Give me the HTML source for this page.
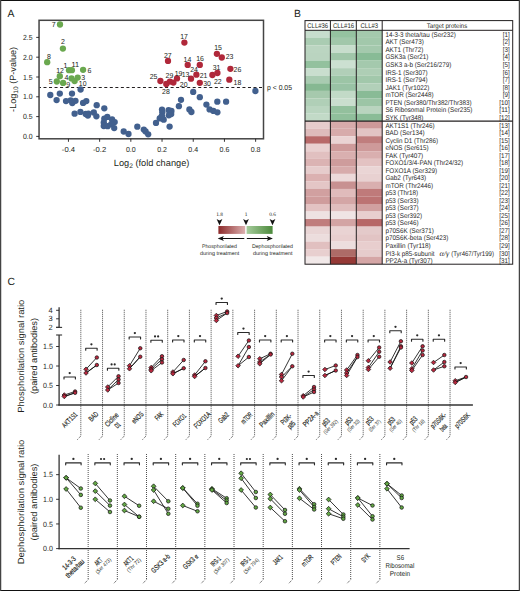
<!DOCTYPE html>
<html><head><meta charset="utf-8"><style>
html,body{margin:0;padding:0;background:#fff;}
svg{display:block;font-family:"Liberation Sans", sans-serif;text-rendering:geometricPrecision;}

</style></head><body>
<svg width="520" height="591" viewBox="0 0 520 591">
<rect x="0" y="0" width="520" height="591" fill="#ffffff"/>
<text x="7.60" y="17.10" font-size="10.4" text-anchor="start" fill="#231f20" >A</text>
<rect x="39.05" y="20.3" width="224.45" height="118.50" fill="none" stroke="#444" stroke-width="1.5"/>
<line x1="36.20" y1="136.40" x2="39.05" y2="136.40" stroke="#231f20" stroke-width="0.9" />
<text x="32.50" y="139.00" font-size="7.4" text-anchor="end" fill="#231f20" textLength="9.6" lengthAdjust="spacingAndGlyphs">0.0</text>
<line x1="36.20" y1="116.60" x2="39.05" y2="116.60" stroke="#231f20" stroke-width="0.9" />
<text x="32.50" y="119.20" font-size="7.4" text-anchor="end" fill="#231f20" textLength="9.6" lengthAdjust="spacingAndGlyphs">0.5</text>
<line x1="36.20" y1="96.80" x2="39.05" y2="96.80" stroke="#231f20" stroke-width="0.9" />
<text x="32.50" y="99.40" font-size="7.4" text-anchor="end" fill="#231f20" textLength="9.6" lengthAdjust="spacingAndGlyphs">1.0</text>
<line x1="36.20" y1="77.00" x2="39.05" y2="77.00" stroke="#231f20" stroke-width="0.9" />
<text x="32.50" y="79.60" font-size="7.4" text-anchor="end" fill="#231f20" textLength="9.6" lengthAdjust="spacingAndGlyphs">1.5</text>
<line x1="36.20" y1="57.20" x2="39.05" y2="57.20" stroke="#231f20" stroke-width="0.9" />
<text x="32.50" y="59.80" font-size="7.4" text-anchor="end" fill="#231f20" textLength="9.6" lengthAdjust="spacingAndGlyphs">2.0</text>
<line x1="36.20" y1="37.40" x2="39.05" y2="37.40" stroke="#231f20" stroke-width="0.9" />
<text x="32.50" y="40.00" font-size="7.4" text-anchor="end" fill="#231f20" textLength="9.6" lengthAdjust="spacingAndGlyphs">2.5</text>
<line x1="68.44" y1="138.80" x2="68.44" y2="141.80" stroke="#231f20" stroke-width="0.9" />
<text x="68.44" y="152.10" font-size="7.3" text-anchor="middle" fill="#231f20" textLength="13.2" lengthAdjust="spacingAndGlyphs">-0.4</text>
<line x1="99.64" y1="138.80" x2="99.64" y2="141.80" stroke="#231f20" stroke-width="0.9" />
<text x="99.64" y="152.10" font-size="7.3" text-anchor="middle" fill="#231f20" textLength="13.2" lengthAdjust="spacingAndGlyphs">-0.2</text>
<line x1="130.84" y1="138.80" x2="130.84" y2="141.80" stroke="#231f20" stroke-width="0.9" />
<text x="130.84" y="152.10" font-size="7.3" text-anchor="middle" fill="#231f20" textLength="9.8" lengthAdjust="spacingAndGlyphs">0.0</text>
<line x1="162.04" y1="138.80" x2="162.04" y2="141.80" stroke="#231f20" stroke-width="0.9" />
<text x="162.04" y="152.10" font-size="7.3" text-anchor="middle" fill="#231f20" textLength="9.8" lengthAdjust="spacingAndGlyphs">0.2</text>
<line x1="193.24" y1="138.80" x2="193.24" y2="141.80" stroke="#231f20" stroke-width="0.9" />
<text x="193.24" y="152.10" font-size="7.3" text-anchor="middle" fill="#231f20" textLength="9.8" lengthAdjust="spacingAndGlyphs">0.4</text>
<line x1="224.44" y1="138.80" x2="224.44" y2="141.80" stroke="#231f20" stroke-width="0.9" />
<text x="224.44" y="152.10" font-size="7.3" text-anchor="middle" fill="#231f20" textLength="9.8" lengthAdjust="spacingAndGlyphs">0.6</text>
<line x1="255.64" y1="138.80" x2="255.64" y2="141.80" stroke="#231f20" stroke-width="0.9" />
<text x="255.64" y="152.10" font-size="7.3" text-anchor="middle" fill="#231f20" textLength="9.8" lengthAdjust="spacingAndGlyphs">0.8</text>
<text x="113.8" y="165.8" font-size="9.2" fill="#231f20" textLength="75.6" lengthAdjust="spacingAndGlyphs">Log<tspan font-size="6.6" dy="2.0">2</tspan><tspan dy="-2.0"> (fold change)</tspan></text>
<text transform="translate(16.4,79.4) rotate(-90)" x="0" y="0" font-size="9.0" text-anchor="middle" fill="#231f20" textLength="65" lengthAdjust="spacingAndGlyphs">-Log<tspan font-size="6.6" dy="2.0">10</tspan><tspan dy="-2.0"> (P-value)</tspan></text>
<line x1="39.65" y1="87.40" x2="263.00" y2="87.40" stroke="#231f20" stroke-width="1.05" stroke-dasharray="3.0 2.526" stroke-dashoffset="1.676"/>
<text x="267.00" y="89.90" font-size="7.3" text-anchor="start" fill="#231f20" textLength="25.0" lengthAdjust="spacingAndGlyphs">p &lt; 0.05</text>
<circle cx="50.30" cy="95.00" r="3.15" fill="#42608e" stroke="none" stroke-width="0"/>
<circle cx="59.80" cy="93.60" r="3.15" fill="#42608e" stroke="none" stroke-width="0"/>
<circle cx="72.00" cy="93.60" r="3.15" fill="#42608e" stroke="none" stroke-width="0"/>
<circle cx="80.60" cy="89.50" r="3.15" fill="#42608e" stroke="none" stroke-width="0"/>
<circle cx="56.60" cy="100.10" r="3.15" fill="#42608e" stroke="none" stroke-width="0"/>
<circle cx="66.00" cy="101.10" r="3.15" fill="#42608e" stroke="none" stroke-width="0"/>
<circle cx="70.70" cy="100.30" r="3.15" fill="#42608e" stroke="none" stroke-width="0"/>
<circle cx="72.30" cy="103.00" r="3.15" fill="#42608e" stroke="none" stroke-width="0"/>
<circle cx="75.50" cy="100.80" r="3.15" fill="#42608e" stroke="none" stroke-width="0"/>
<circle cx="83.10" cy="102.90" r="3.15" fill="#42608e" stroke="none" stroke-width="0"/>
<circle cx="86.30" cy="101.10" r="3.15" fill="#42608e" stroke="none" stroke-width="0"/>
<circle cx="96.70" cy="105.20" r="3.15" fill="#42608e" stroke="none" stroke-width="0"/>
<circle cx="104.30" cy="108.30" r="3.15" fill="#42608e" stroke="none" stroke-width="0"/>
<circle cx="74.60" cy="113.70" r="3.15" fill="#42608e" stroke="none" stroke-width="0"/>
<circle cx="80.40" cy="111.90" r="3.15" fill="#42608e" stroke="none" stroke-width="0"/>
<circle cx="85.70" cy="114.00" r="3.15" fill="#42608e" stroke="none" stroke-width="0"/>
<circle cx="88.40" cy="113.70" r="3.15" fill="#42608e" stroke="none" stroke-width="0"/>
<circle cx="87.90" cy="115.60" r="3.15" fill="#42608e" stroke="none" stroke-width="0"/>
<circle cx="93.80" cy="112.50" r="3.15" fill="#42608e" stroke="none" stroke-width="0"/>
<circle cx="96.40" cy="116.30" r="3.15" fill="#42608e" stroke="none" stroke-width="0"/>
<circle cx="104.30" cy="118.60" r="3.15" fill="#42608e" stroke="none" stroke-width="0"/>
<circle cx="107.30" cy="116.90" r="3.15" fill="#42608e" stroke="none" stroke-width="0"/>
<circle cx="112.10" cy="119.50" r="3.15" fill="#42608e" stroke="none" stroke-width="0"/>
<circle cx="114.70" cy="122.10" r="3.15" fill="#42608e" stroke="none" stroke-width="0"/>
<circle cx="103.80" cy="122.50" r="3.15" fill="#42608e" stroke="none" stroke-width="0"/>
<circle cx="103.80" cy="126.00" r="3.15" fill="#42608e" stroke="none" stroke-width="0"/>
<circle cx="107.70" cy="126.20" r="3.15" fill="#42608e" stroke="none" stroke-width="0"/>
<circle cx="111.20" cy="124.20" r="3.15" fill="#42608e" stroke="none" stroke-width="0"/>
<circle cx="114.20" cy="128.10" r="3.15" fill="#42608e" stroke="none" stroke-width="0"/>
<circle cx="123.70" cy="131.50" r="3.15" fill="#42608e" stroke="none" stroke-width="0"/>
<circle cx="128.50" cy="134.00" r="3.15" fill="#42608e" stroke="none" stroke-width="0"/>
<circle cx="137.30" cy="126.70" r="3.15" fill="#42608e" stroke="none" stroke-width="0"/>
<circle cx="143.80" cy="129.60" r="3.15" fill="#42608e" stroke="none" stroke-width="0"/>
<circle cx="145.60" cy="131.40" r="3.15" fill="#42608e" stroke="none" stroke-width="0"/>
<circle cx="148.20" cy="134.30" r="3.15" fill="#42608e" stroke="none" stroke-width="0"/>
<circle cx="156.00" cy="122.90" r="3.15" fill="#42608e" stroke="none" stroke-width="0"/>
<circle cx="159.70" cy="118.40" r="3.15" fill="#42608e" stroke="none" stroke-width="0"/>
<circle cx="163.70" cy="119.70" r="3.15" fill="#42608e" stroke="none" stroke-width="0"/>
<circle cx="162.00" cy="116.20" r="3.15" fill="#42608e" stroke="none" stroke-width="0"/>
<circle cx="162.00" cy="109.60" r="3.15" fill="#42608e" stroke="none" stroke-width="0"/>
<circle cx="162.30" cy="112.30" r="3.15" fill="#42608e" stroke="none" stroke-width="0"/>
<circle cx="168.60" cy="110.20" r="3.15" fill="#42608e" stroke="none" stroke-width="0"/>
<circle cx="171.40" cy="110.90" r="3.15" fill="#42608e" stroke="none" stroke-width="0"/>
<circle cx="171.20" cy="114.00" r="3.15" fill="#42608e" stroke="none" stroke-width="0"/>
<circle cx="168.80" cy="115.30" r="3.15" fill="#42608e" stroke="none" stroke-width="0"/>
<circle cx="161.50" cy="116.60" r="3.15" fill="#42608e" stroke="none" stroke-width="0"/>
<circle cx="169.60" cy="126.60" r="3.15" fill="#42608e" stroke="none" stroke-width="0"/>
<circle cx="178.90" cy="106.20" r="3.15" fill="#42608e" stroke="none" stroke-width="0"/>
<circle cx="181.00" cy="99.80" r="3.15" fill="#42608e" stroke="none" stroke-width="0"/>
<circle cx="189.40" cy="109.40" r="3.15" fill="#42608e" stroke="none" stroke-width="0"/>
<circle cx="191.40" cy="112.00" r="3.15" fill="#42608e" stroke="none" stroke-width="0"/>
<circle cx="193.20" cy="91.90" r="3.15" fill="#42608e" stroke="none" stroke-width="0"/>
<circle cx="199.80" cy="97.20" r="3.15" fill="#42608e" stroke="none" stroke-width="0"/>
<circle cx="206.40" cy="104.60" r="3.15" fill="#42608e" stroke="none" stroke-width="0"/>
<circle cx="209.60" cy="109.40" r="3.15" fill="#42608e" stroke="none" stroke-width="0"/>
<circle cx="213.40" cy="110.90" r="3.15" fill="#42608e" stroke="none" stroke-width="0"/>
<circle cx="217.40" cy="112.30" r="3.15" fill="#42608e" stroke="none" stroke-width="0"/>
<circle cx="217.30" cy="101.70" r="3.15" fill="#42608e" stroke="none" stroke-width="0"/>
<circle cx="226.10" cy="101.70" r="3.15" fill="#42608e" stroke="none" stroke-width="0"/>
<circle cx="255.40" cy="91.00" r="3.15" fill="#42608e" stroke="none" stroke-width="0"/>
<circle cx="60.00" cy="24.50" r="3.15" fill="#6aa84f" stroke="none" stroke-width="0"/>
<circle cx="62.90" cy="48.60" r="3.15" fill="#6aa84f" stroke="none" stroke-width="0"/>
<circle cx="47.20" cy="62.20" r="3.15" fill="#6aa84f" stroke="none" stroke-width="0"/>
<circle cx="69.00" cy="70.20" r="3.15" fill="#6aa84f" stroke="none" stroke-width="0"/>
<circle cx="71.90" cy="70.20" r="3.15" fill="#6aa84f" stroke="none" stroke-width="0"/>
<circle cx="83.10" cy="69.80" r="3.15" fill="#6aa84f" stroke="none" stroke-width="0"/>
<circle cx="59.80" cy="76.20" r="3.15" fill="#6aa84f" stroke="none" stroke-width="0"/>
<circle cx="56.80" cy="81.50" r="3.15" fill="#6aa84f" stroke="none" stroke-width="0"/>
<circle cx="63.10" cy="82.90" r="3.15" fill="#6aa84f" stroke="none" stroke-width="0"/>
<circle cx="71.50" cy="78.40" r="3.15" fill="#6aa84f" stroke="none" stroke-width="0"/>
<circle cx="74.60" cy="81.10" r="3.15" fill="#6aa84f" stroke="none" stroke-width="0"/>
<circle cx="77.70" cy="77.60" r="3.15" fill="#6aa84f" stroke="none" stroke-width="0"/>
<circle cx="184.40" cy="42.60" r="3.15" fill="#b0283a" stroke="none" stroke-width="0"/>
<circle cx="216.90" cy="53.80" r="3.15" fill="#b0283a" stroke="none" stroke-width="0"/>
<circle cx="221.80" cy="57.50" r="3.15" fill="#b0283a" stroke="none" stroke-width="0"/>
<circle cx="168.00" cy="60.90" r="3.15" fill="#b0283a" stroke="none" stroke-width="0"/>
<circle cx="187.70" cy="64.90" r="3.15" fill="#b0283a" stroke="none" stroke-width="0"/>
<circle cx="199.80" cy="64.90" r="3.15" fill="#b0283a" stroke="none" stroke-width="0"/>
<circle cx="230.40" cy="68.80" r="3.15" fill="#b0283a" stroke="none" stroke-width="0"/>
<circle cx="217.40" cy="73.00" r="3.15" fill="#b0283a" stroke="none" stroke-width="0"/>
<circle cx="212.40" cy="75.00" r="3.15" fill="#b0283a" stroke="none" stroke-width="0"/>
<circle cx="196.40" cy="74.70" r="3.15" fill="#b0283a" stroke="none" stroke-width="0"/>
<circle cx="191.00" cy="78.70" r="3.15" fill="#b0283a" stroke="none" stroke-width="0"/>
<circle cx="177.00" cy="78.40" r="3.15" fill="#b0283a" stroke="none" stroke-width="0"/>
<circle cx="229.30" cy="79.70" r="3.15" fill="#b0283a" stroke="none" stroke-width="0"/>
<circle cx="160.40" cy="81.00" r="3.15" fill="#b0283a" stroke="none" stroke-width="0"/>
<circle cx="169.90" cy="81.60" r="3.15" fill="#b0283a" stroke="none" stroke-width="0"/>
<circle cx="173.40" cy="82.60" r="3.15" fill="#b0283a" stroke="none" stroke-width="0"/>
<circle cx="166.30" cy="84.00" r="3.15" fill="#b0283a" stroke="none" stroke-width="0"/>
<circle cx="199.80" cy="82.80" r="3.15" fill="#b0283a" stroke="none" stroke-width="0"/>
<text x="53.80" y="27.30" font-size="7.2" text-anchor="middle" fill="#231f20" textLength="3.9" lengthAdjust="spacingAndGlyphs">7</text>
<text x="62.90" y="44.40" font-size="7.2" text-anchor="middle" fill="#231f20" textLength="3.9" lengthAdjust="spacingAndGlyphs">2</text>
<text x="49.00" y="59.00" font-size="7.2" text-anchor="middle" fill="#231f20" textLength="3.9" lengthAdjust="spacingAndGlyphs">8</text>
<text x="60.00" y="73.00" font-size="7.2" text-anchor="middle" fill="#231f20" textLength="7.7" lengthAdjust="spacingAndGlyphs">12</text>
<text x="65.40" y="68.00" font-size="7.2" text-anchor="middle" fill="#231f20" textLength="3.9" lengthAdjust="spacingAndGlyphs">1</text>
<text x="75.40" y="66.90" font-size="7.2" text-anchor="middle" fill="#231f20" textLength="7.7" lengthAdjust="spacingAndGlyphs">11</text>
<text x="89.50" y="72.50" font-size="7.2" text-anchor="middle" fill="#231f20" textLength="3.9" lengthAdjust="spacingAndGlyphs">6</text>
<text x="66.50" y="79.90" font-size="7.2" text-anchor="middle" fill="#231f20" textLength="3.9" lengthAdjust="spacingAndGlyphs">4</text>
<text x="83.10" y="79.50" font-size="7.2" text-anchor="middle" fill="#231f20" textLength="3.9" lengthAdjust="spacingAndGlyphs">3</text>
<text x="50.60" y="84.20" font-size="7.2" text-anchor="middle" fill="#231f20" textLength="3.9" lengthAdjust="spacingAndGlyphs">5</text>
<text x="68.10" y="86.90" font-size="7.2" text-anchor="middle" fill="#231f20" textLength="3.9" lengthAdjust="spacingAndGlyphs">9</text>
<text x="82.70" y="86.10" font-size="7.2" text-anchor="middle" fill="#231f20" textLength="7.7" lengthAdjust="spacingAndGlyphs">10</text>
<text x="184.00" y="38.90" font-size="7.2" text-anchor="middle" fill="#231f20" textLength="7.7" lengthAdjust="spacingAndGlyphs">17</text>
<text x="167.80" y="57.80" font-size="7.2" text-anchor="middle" fill="#231f20" textLength="7.7" lengthAdjust="spacingAndGlyphs">27</text>
<text x="187.40" y="61.50" font-size="7.2" text-anchor="middle" fill="#231f20" textLength="7.7" lengthAdjust="spacingAndGlyphs">14</text>
<text x="200.00" y="61.20" font-size="7.2" text-anchor="middle" fill="#231f20" textLength="7.7" lengthAdjust="spacingAndGlyphs">16</text>
<text x="218.10" y="50.40" font-size="7.2" text-anchor="middle" fill="#231f20" textLength="7.7" lengthAdjust="spacingAndGlyphs">15</text>
<text x="229.50" y="59.00" font-size="7.2" text-anchor="middle" fill="#231f20" textLength="7.7" lengthAdjust="spacingAndGlyphs">23</text>
<text x="153.50" y="79.10" font-size="7.2" text-anchor="middle" fill="#231f20" textLength="7.7" lengthAdjust="spacingAndGlyphs">25</text>
<text x="169.40" y="78.30" font-size="7.2" text-anchor="middle" fill="#231f20" textLength="7.7" lengthAdjust="spacingAndGlyphs">29</text>
<text x="178.50" y="75.70" font-size="7.2" text-anchor="middle" fill="#231f20" textLength="7.7" lengthAdjust="spacingAndGlyphs">19</text>
<text x="185.50" y="76.50" font-size="7.2" text-anchor="middle" fill="#231f20" textLength="7.7" lengthAdjust="spacingAndGlyphs">13</text>
<text x="194.10" y="71.90" font-size="7.2" text-anchor="middle" fill="#231f20" textLength="7.7" lengthAdjust="spacingAndGlyphs">24</text>
<text x="203.60" y="77.90" font-size="7.2" text-anchor="middle" fill="#231f20" textLength="7.7" lengthAdjust="spacingAndGlyphs">21</text>
<text x="183.70" y="86.90" font-size="7.2" text-anchor="middle" fill="#231f20" textLength="7.7" lengthAdjust="spacingAndGlyphs">20</text>
<text x="207.10" y="86.10" font-size="7.2" text-anchor="middle" fill="#231f20" textLength="7.7" lengthAdjust="spacingAndGlyphs">30</text>
<text x="216.60" y="69.60" font-size="7.2" text-anchor="middle" fill="#231f20" textLength="7.7" lengthAdjust="spacingAndGlyphs">31</text>
<text x="217.80" y="83.50" font-size="7.2" text-anchor="middle" fill="#231f20" textLength="7.7" lengthAdjust="spacingAndGlyphs">22</text>
<text x="237.40" y="72.20" font-size="7.2" text-anchor="middle" fill="#231f20" textLength="7.7" lengthAdjust="spacingAndGlyphs">26</text>
<text x="237.40" y="85.20" font-size="7.2" text-anchor="middle" fill="#231f20" textLength="7.7" lengthAdjust="spacingAndGlyphs">18</text>
<text x="165.90" y="93.80" font-size="7.2" text-anchor="middle" fill="#231f20" textLength="7.7" lengthAdjust="spacingAndGlyphs">28</text>
<text x="294.00" y="17.10" font-size="10.4" text-anchor="start" fill="#231f20" >B</text>
<rect x="305.00" y="30.30" width="25.40" height="7.62" fill="#c7ddcd"/>
<rect x="305.00" y="37.87" width="25.40" height="7.62" fill="#aaccb2"/>
<rect x="305.00" y="45.44" width="25.40" height="7.62" fill="#bbd5c1"/>
<rect x="305.00" y="53.01" width="25.40" height="7.62" fill="#bad4c0"/>
<rect x="305.00" y="60.58" width="25.40" height="7.62" fill="#93c19e"/>
<rect x="305.00" y="68.15" width="25.40" height="7.62" fill="#c9dece"/>
<rect x="305.00" y="75.73" width="25.40" height="7.62" fill="#a9cbb1"/>
<rect x="305.00" y="83.30" width="25.40" height="7.62" fill="#86b892"/>
<rect x="305.00" y="90.87" width="25.40" height="7.62" fill="#a6c9ad"/>
<rect x="305.00" y="98.44" width="25.40" height="7.62" fill="#b0cfb7"/>
<rect x="305.00" y="106.01" width="25.40" height="7.62" fill="#bad5c0"/>
<rect x="305.00" y="113.58" width="25.40" height="7.62" fill="#c2dac7"/>
<rect x="305.00" y="121.15" width="25.40" height="7.58" fill="#e6cccc"/>
<rect x="305.00" y="128.68" width="25.40" height="7.58" fill="#debbbb"/>
<rect x="305.00" y="136.21" width="25.40" height="7.58" fill="#b86969"/>
<rect x="305.00" y="143.74" width="25.40" height="7.58" fill="#e9d0d0"/>
<rect x="305.00" y="151.27" width="25.40" height="7.58" fill="#e1c0c0"/>
<rect x="305.00" y="158.79" width="25.40" height="7.58" fill="#dbb3b3"/>
<rect x="305.00" y="166.32" width="25.40" height="7.58" fill="#e6cccc"/>
<rect x="305.00" y="173.85" width="25.40" height="7.58" fill="#dbb1b1"/>
<rect x="305.00" y="181.38" width="25.40" height="7.58" fill="#e4c6c6"/>
<rect x="305.00" y="188.91" width="25.40" height="7.58" fill="#d1a0a0"/>
<rect x="305.00" y="196.44" width="25.40" height="7.58" fill="#cf9c9c"/>
<rect x="305.00" y="203.97" width="25.40" height="7.58" fill="#e3c2c2"/>
<rect x="305.00" y="211.50" width="25.40" height="7.58" fill="#eee2e2"/>
<rect x="305.00" y="219.03" width="25.40" height="7.58" fill="#c07d7d"/>
<rect x="305.00" y="226.56" width="25.40" height="7.58" fill="#e9d5d5"/>
<rect x="305.00" y="234.08" width="25.40" height="7.58" fill="#ecdddd"/>
<rect x="305.00" y="241.61" width="25.40" height="7.58" fill="#e1c0c0"/>
<rect x="305.00" y="249.14" width="25.40" height="7.58" fill="#e8cfcf"/>
<rect x="305.00" y="256.67" width="25.40" height="7.58" fill="#f1e8e8"/>
<rect x="330.40" y="30.30" width="25.90" height="7.62" fill="#95c2a0"/>
<rect x="330.40" y="37.87" width="25.90" height="7.62" fill="#a1c7aa"/>
<rect x="330.40" y="45.44" width="25.90" height="7.62" fill="#c7ddcc"/>
<rect x="330.40" y="53.01" width="25.90" height="7.62" fill="#a0c6a9"/>
<rect x="330.40" y="60.58" width="25.90" height="7.62" fill="#cce0d1"/>
<rect x="330.40" y="68.15" width="25.90" height="7.62" fill="#b1cfb8"/>
<rect x="330.40" y="75.73" width="25.90" height="7.62" fill="#9cc5a6"/>
<rect x="330.40" y="83.30" width="25.90" height="7.62" fill="#99c3a5"/>
<rect x="330.40" y="90.87" width="25.90" height="7.62" fill="#c2dac7"/>
<rect x="330.40" y="98.44" width="25.90" height="7.62" fill="#cadece"/>
<rect x="330.40" y="106.01" width="25.90" height="7.62" fill="#93c09d"/>
<rect x="330.40" y="113.58" width="25.90" height="7.62" fill="#90bf9b"/>
<rect x="330.40" y="121.15" width="25.90" height="7.58" fill="#d7abab"/>
<rect x="330.40" y="128.68" width="25.90" height="7.58" fill="#d7abab"/>
<rect x="330.40" y="136.21" width="25.90" height="7.58" fill="#ead3d3"/>
<rect x="330.40" y="143.74" width="25.90" height="7.58" fill="#ce9a9a"/>
<rect x="330.40" y="151.27" width="25.90" height="7.58" fill="#d9afaf"/>
<rect x="330.40" y="158.79" width="25.90" height="7.58" fill="#ce9c9c"/>
<rect x="330.40" y="166.32" width="25.90" height="7.58" fill="#d7abab"/>
<rect x="330.40" y="173.85" width="25.90" height="7.58" fill="#ecd9d9"/>
<rect x="330.40" y="181.38" width="25.90" height="7.58" fill="#c89191"/>
<rect x="330.40" y="188.91" width="25.90" height="7.58" fill="#e0bbbb"/>
<rect x="330.40" y="196.44" width="25.90" height="7.58" fill="#d4a6a6"/>
<rect x="330.40" y="203.97" width="25.90" height="7.58" fill="#e0bebe"/>
<rect x="330.40" y="211.50" width="25.90" height="7.58" fill="#efe4e4"/>
<rect x="330.40" y="219.03" width="25.90" height="7.58" fill="#d3a4a4"/>
<rect x="330.40" y="226.56" width="25.90" height="7.58" fill="#e9d3d3"/>
<rect x="330.40" y="234.08" width="25.90" height="7.58" fill="#e8cfcf"/>
<rect x="330.40" y="241.61" width="25.90" height="7.58" fill="#ecdede"/>
<rect x="330.40" y="249.14" width="25.90" height="7.58" fill="#ad6b67"/>
<rect x="330.40" y="256.67" width="25.90" height="7.58" fill="#953936"/>
<rect x="356.30" y="30.30" width="25.90" height="7.62" fill="#a4c9ad"/>
<rect x="356.30" y="37.87" width="25.90" height="7.62" fill="#a2c8ab"/>
<rect x="356.30" y="45.44" width="25.90" height="7.62" fill="#a4c9ad"/>
<rect x="356.30" y="53.01" width="25.90" height="7.62" fill="#88bb96"/>
<rect x="356.30" y="60.58" width="25.90" height="7.62" fill="#a4c9ad"/>
<rect x="356.30" y="68.15" width="25.90" height="7.62" fill="#aeceb5"/>
<rect x="356.30" y="75.73" width="25.90" height="7.62" fill="#a2c8ab"/>
<rect x="356.30" y="83.30" width="25.90" height="7.62" fill="#b2d0b9"/>
<rect x="356.30" y="90.87" width="25.90" height="7.62" fill="#89bb96"/>
<rect x="356.30" y="98.44" width="25.90" height="7.62" fill="#9cc5a6"/>
<rect x="356.30" y="106.01" width="25.90" height="7.62" fill="#b9d4bf"/>
<rect x="356.30" y="113.58" width="25.90" height="7.62" fill="#8abc97"/>
<rect x="356.30" y="121.15" width="25.90" height="7.58" fill="#cd9999"/>
<rect x="356.30" y="128.68" width="25.90" height="7.58" fill="#e2c4c4"/>
<rect x="356.30" y="136.21" width="25.90" height="7.58" fill="#c07e7e"/>
<rect x="356.30" y="143.74" width="25.90" height="7.58" fill="#ce9a9a"/>
<rect x="356.30" y="151.27" width="25.90" height="7.58" fill="#d9afaf"/>
<rect x="356.30" y="158.79" width="25.90" height="7.58" fill="#e3c2c2"/>
<rect x="356.30" y="166.32" width="25.90" height="7.58" fill="#ead5d5"/>
<rect x="356.30" y="173.85" width="25.90" height="7.58" fill="#e8d1d1"/>
<rect x="356.30" y="181.38" width="25.90" height="7.58" fill="#d9afaf"/>
<rect x="356.30" y="188.91" width="25.90" height="7.58" fill="#bf7a7a"/>
<rect x="356.30" y="196.44" width="25.90" height="7.58" fill="#bc7373"/>
<rect x="356.30" y="203.97" width="25.90" height="7.58" fill="#d1a0a0"/>
<rect x="356.30" y="211.50" width="25.90" height="7.58" fill="#e8cece"/>
<rect x="356.30" y="219.03" width="25.90" height="7.58" fill="#b76767"/>
<rect x="356.30" y="226.56" width="25.90" height="7.58" fill="#e4caca"/>
<rect x="356.30" y="234.08" width="25.90" height="7.58" fill="#e2c4c4"/>
<rect x="356.30" y="241.61" width="25.90" height="7.58" fill="#e8cece"/>
<rect x="356.30" y="249.14" width="25.90" height="7.58" fill="#e6cccc"/>
<rect x="356.30" y="256.67" width="25.90" height="7.58" fill="#d5a6a6"/>
<rect x="305.0" y="20.6" width="207.70" height="243.60" fill="none" stroke="#231f20" stroke-width="1"/>
<line x1="305.00" y1="30.30" x2="512.70" y2="30.30" stroke="#231f20" stroke-width="1" />
<line x1="330.40" y1="20.60" x2="330.40" y2="264.20" stroke="#231f20" stroke-width="1" />
<line x1="356.30" y1="20.60" x2="356.30" y2="264.20" stroke="#231f20" stroke-width="1" />
<line x1="382.20" y1="20.60" x2="382.20" y2="264.20" stroke="#231f20" stroke-width="1" />
<line x1="305.00" y1="121.15" x2="512.70" y2="121.15" stroke="#231f20" stroke-width="1.1" />
<text x="317.70" y="27.70" font-size="6.8" text-anchor="middle" fill="#231f20" textLength="20.8" lengthAdjust="spacingAndGlyphs">CLL#36</text>
<text x="343.60" y="27.70" font-size="6.8" text-anchor="middle" fill="#231f20" textLength="21.2" lengthAdjust="spacingAndGlyphs">CLL#16</text>
<text x="369.30" y="27.70" font-size="6.8" text-anchor="middle" fill="#231f20" textLength="17.6" lengthAdjust="spacingAndGlyphs">CLL#3</text>
<text x="447.00" y="27.50" font-size="6.7" text-anchor="middle" fill="#231f20" textLength="40.4" lengthAdjust="spacingAndGlyphs">Target proteins</text>
<text x="385.40" y="36.69" font-size="6.8" text-anchor="start" fill="#2a2a2a" textLength="70.52" lengthAdjust="spacingAndGlyphs">14-3-3 theta/tau (Ser232)</text>
<text x="509.80" y="36.69" font-size="6.8" text-anchor="end" fill="#2a2a2a" textLength="6.98" lengthAdjust="spacingAndGlyphs">[1]</text>
<text x="385.40" y="44.26" font-size="6.8" text-anchor="start" fill="#2a2a2a" textLength="38.39" lengthAdjust="spacingAndGlyphs">AKT (Ser473)</text>
<text x="509.80" y="44.26" font-size="6.8" text-anchor="end" fill="#2a2a2a" textLength="6.98" lengthAdjust="spacingAndGlyphs">[2]</text>
<text x="385.40" y="51.83" font-size="6.8" text-anchor="start" fill="#2a2a2a" textLength="38.04" lengthAdjust="spacingAndGlyphs">AKT1 (Thr72)</text>
<text x="509.80" y="51.83" font-size="6.8" text-anchor="end" fill="#2a2a2a" textLength="6.98" lengthAdjust="spacingAndGlyphs">[3]</text>
<text x="385.40" y="59.40" font-size="6.8" text-anchor="start" fill="#2a2a2a" textLength="42.93" lengthAdjust="spacingAndGlyphs">GSK3a (Ser21)</text>
<text x="509.80" y="59.40" font-size="6.8" text-anchor="end" fill="#2a2a2a" textLength="6.98" lengthAdjust="spacingAndGlyphs">[4]</text>
<text x="385.40" y="66.97" font-size="6.8" text-anchor="start" fill="#2a2a2a" textLength="65.98" lengthAdjust="spacingAndGlyphs">GSK3 a-b (Ser216/279)</text>
<text x="509.80" y="66.97" font-size="6.8" text-anchor="end" fill="#2a2a2a" textLength="6.98" lengthAdjust="spacingAndGlyphs">[5]</text>
<text x="385.40" y="74.54" font-size="6.8" text-anchor="start" fill="#2a2a2a" textLength="42.23" lengthAdjust="spacingAndGlyphs">IRS-1 (Ser307)</text>
<text x="509.80" y="74.54" font-size="6.8" text-anchor="end" fill="#2a2a2a" textLength="6.98" lengthAdjust="spacingAndGlyphs">[6]</text>
<text x="385.40" y="82.11" font-size="6.8" text-anchor="start" fill="#2a2a2a" textLength="42.23" lengthAdjust="spacingAndGlyphs">IRS-1 (Ser794)</text>
<text x="509.80" y="82.11" font-size="6.8" text-anchor="end" fill="#2a2a2a" textLength="6.98" lengthAdjust="spacingAndGlyphs">[7]</text>
<text x="385.40" y="89.68" font-size="6.8" text-anchor="start" fill="#2a2a2a" textLength="43.98" lengthAdjust="spacingAndGlyphs">JAK1 (Tyr1022)</text>
<text x="509.80" y="89.68" font-size="6.8" text-anchor="end" fill="#2a2a2a" textLength="6.98" lengthAdjust="spacingAndGlyphs">[8]</text>
<text x="385.40" y="97.25" font-size="6.8" text-anchor="start" fill="#2a2a2a" textLength="48.16" lengthAdjust="spacingAndGlyphs">mTOR (Ser2448)</text>
<text x="509.80" y="97.25" font-size="6.8" text-anchor="end" fill="#2a2a2a" textLength="6.98" lengthAdjust="spacingAndGlyphs">[9]</text>
<text x="385.40" y="104.82" font-size="6.8" text-anchor="start" fill="#2a2a2a" textLength="86.21" lengthAdjust="spacingAndGlyphs">PTEN (Ser380/Thr382/Thr383)</text>
<text x="509.80" y="104.82" font-size="6.8" text-anchor="end" fill="#2a2a2a" textLength="10.47" lengthAdjust="spacingAndGlyphs">[10]</text>
<text x="385.40" y="112.39" font-size="6.8" text-anchor="start" fill="#2a2a2a" textLength="86.91" lengthAdjust="spacingAndGlyphs">S6 Ribosomal Protein (Ser235)</text>
<text x="509.80" y="112.39" font-size="6.8" text-anchor="end" fill="#2a2a2a" textLength="10.47" lengthAdjust="spacingAndGlyphs">[11]</text>
<text x="385.40" y="119.96" font-size="6.8" text-anchor="start" fill="#2a2a2a" textLength="38.04" lengthAdjust="spacingAndGlyphs">SYK (Tyr348)</text>
<text x="509.80" y="119.96" font-size="6.8" text-anchor="end" fill="#2a2a2a" textLength="10.47" lengthAdjust="spacingAndGlyphs">[12]</text>
<text x="385.40" y="127.51" font-size="6.8" text-anchor="start" fill="#2a2a2a" textLength="49.21" lengthAdjust="spacingAndGlyphs">AKT1S1 (Thr246)</text>
<text x="509.80" y="127.51" font-size="6.8" text-anchor="end" fill="#2a2a2a" textLength="10.47" lengthAdjust="spacingAndGlyphs">[13]</text>
<text x="385.40" y="135.04" font-size="6.8" text-anchor="start" fill="#2a2a2a" textLength="39.09" lengthAdjust="spacingAndGlyphs">BAD (Ser134)</text>
<text x="509.80" y="135.04" font-size="6.8" text-anchor="end" fill="#2a2a2a" textLength="10.47" lengthAdjust="spacingAndGlyphs">[14]</text>
<text x="385.40" y="142.57" font-size="6.8" text-anchor="start" fill="#2a2a2a" textLength="52.70" lengthAdjust="spacingAndGlyphs">Cyclin D1 (Thr286)</text>
<text x="509.80" y="142.57" font-size="6.8" text-anchor="end" fill="#2a2a2a" textLength="10.47" lengthAdjust="spacingAndGlyphs">[15]</text>
<text x="385.40" y="150.10" font-size="6.8" text-anchor="start" fill="#2a2a2a" textLength="43.28" lengthAdjust="spacingAndGlyphs">eNOS (Ser615)</text>
<text x="509.80" y="150.10" font-size="6.8" text-anchor="end" fill="#2a2a2a" textLength="10.47" lengthAdjust="spacingAndGlyphs">[16]</text>
<text x="385.40" y="157.63" font-size="6.8" text-anchor="start" fill="#2a2a2a" textLength="37.69" lengthAdjust="spacingAndGlyphs">FAK (Tyr407)</text>
<text x="509.80" y="157.63" font-size="6.8" text-anchor="end" fill="#2a2a2a" textLength="10.47" lengthAdjust="spacingAndGlyphs">[17]</text>
<text x="385.40" y="165.16" font-size="6.8" text-anchor="start" fill="#2a2a2a" textLength="77.83" lengthAdjust="spacingAndGlyphs">FOXO1/3/4-PAN (Thr24/32)</text>
<text x="509.80" y="165.16" font-size="6.8" text-anchor="end" fill="#2a2a2a" textLength="10.47" lengthAdjust="spacingAndGlyphs">[18]</text>
<text x="385.40" y="172.69" font-size="6.8" text-anchor="start" fill="#2a2a2a" textLength="51.65" lengthAdjust="spacingAndGlyphs">FOXO1A (Ser329)</text>
<text x="509.80" y="172.69" font-size="6.8" text-anchor="end" fill="#2a2a2a" textLength="10.47" lengthAdjust="spacingAndGlyphs">[19]</text>
<text x="385.40" y="180.22" font-size="6.8" text-anchor="start" fill="#2a2a2a" textLength="40.84" lengthAdjust="spacingAndGlyphs">Gab2 (Tyr643)</text>
<text x="509.80" y="180.22" font-size="6.8" text-anchor="end" fill="#2a2a2a" textLength="10.47" lengthAdjust="spacingAndGlyphs">[20]</text>
<text x="385.40" y="187.75" font-size="6.8" text-anchor="start" fill="#2a2a2a" textLength="47.81" lengthAdjust="spacingAndGlyphs">mTOR (Thr2446)</text>
<text x="509.80" y="187.75" font-size="6.8" text-anchor="end" fill="#2a2a2a" textLength="10.47" lengthAdjust="spacingAndGlyphs">[21]</text>
<text x="385.40" y="195.27" font-size="6.8" text-anchor="start" fill="#2a2a2a" textLength="32.81" lengthAdjust="spacingAndGlyphs">p53 (Thr18)</text>
<text x="509.80" y="195.27" font-size="6.8" text-anchor="end" fill="#2a2a2a" textLength="10.47" lengthAdjust="spacingAndGlyphs">[22]</text>
<text x="385.40" y="202.80" font-size="6.8" text-anchor="start" fill="#2a2a2a" textLength="33.16" lengthAdjust="spacingAndGlyphs">p53 (Ser33)</text>
<text x="509.80" y="202.80" font-size="6.8" text-anchor="end" fill="#2a2a2a" textLength="10.47" lengthAdjust="spacingAndGlyphs">[23]</text>
<text x="385.40" y="210.33" font-size="6.8" text-anchor="start" fill="#2a2a2a" textLength="33.16" lengthAdjust="spacingAndGlyphs">p53 (Ser37)</text>
<text x="509.80" y="210.33" font-size="6.8" text-anchor="end" fill="#2a2a2a" textLength="10.47" lengthAdjust="spacingAndGlyphs">[24]</text>
<text x="385.40" y="217.86" font-size="6.8" text-anchor="start" fill="#2a2a2a" textLength="36.66" lengthAdjust="spacingAndGlyphs">p53 (Ser392)</text>
<text x="509.80" y="217.86" font-size="6.8" text-anchor="end" fill="#2a2a2a" textLength="10.47" lengthAdjust="spacingAndGlyphs">[25]</text>
<text x="385.40" y="225.39" font-size="6.8" text-anchor="start" fill="#2a2a2a" textLength="33.16" lengthAdjust="spacingAndGlyphs">p53 (Ser46)</text>
<text x="509.80" y="225.39" font-size="6.8" text-anchor="end" fill="#2a2a2a" textLength="10.47" lengthAdjust="spacingAndGlyphs">[26]</text>
<text x="385.40" y="232.92" font-size="6.8" text-anchor="start" fill="#2a2a2a" textLength="48.53" lengthAdjust="spacingAndGlyphs">p70S6K (Ser371)</text>
<text x="509.80" y="232.92" font-size="6.8" text-anchor="end" fill="#2a2a2a" textLength="10.47" lengthAdjust="spacingAndGlyphs">[27]</text>
<text x="385.40" y="240.45" font-size="6.8" text-anchor="start" fill="#2a2a2a" textLength="62.84" lengthAdjust="spacingAndGlyphs">p70S6K-beta (Ser423)</text>
<text x="509.80" y="240.45" font-size="6.8" text-anchor="end" fill="#2a2a2a" textLength="10.47" lengthAdjust="spacingAndGlyphs">[28]</text>
<text x="385.40" y="247.98" font-size="6.8" text-anchor="start" fill="#2a2a2a" textLength="45.37" lengthAdjust="spacingAndGlyphs">Paxillin (Tyr118)</text>
<text x="509.80" y="247.98" font-size="6.8" text-anchor="end" fill="#2a2a2a" textLength="10.47" lengthAdjust="spacingAndGlyphs">[29]</text>
<text x="385.40" y="255.51" font-size="6.8" text-anchor="start" fill="#2a2a2a" textLength="49.22" lengthAdjust="spacingAndGlyphs">PI3-k p85-subunit</text>
<text x="439.40" y="255.51" font-size="7.6" text-anchor="start" fill="#2a2a2a" font-family="Liberation Serif" font-style="italic" textLength="9.8" lengthAdjust="spacingAndGlyphs">α/γ</text>
<text x="451.20" y="255.51" font-size="6.8" text-anchor="start" fill="#2a2a2a" textLength="42.8" lengthAdjust="spacingAndGlyphs">(Tyr467/Tyr199)</text>
<text x="509.80" y="255.51" font-size="6.8" text-anchor="end" fill="#2a2a2a" textLength="10.47" lengthAdjust="spacingAndGlyphs">[30]</text>
<text x="385.40" y="263.04" font-size="6.8" text-anchor="start" fill="#2a2a2a" textLength="47.12" lengthAdjust="spacingAndGlyphs">PP2A-a (Tyr307)</text>
<text x="509.80" y="263.04" font-size="6.8" text-anchor="end" fill="#2a2a2a" textLength="10.47" lengthAdjust="spacingAndGlyphs">[31]</text>
<defs><linearGradient id="gr" x1="0" x2="1"><stop offset="0" stop-color="#8c2a2a"/><stop offset="1" stop-color="#dcb0b0"/></linearGradient><linearGradient id="gg" x1="0" x2="1"><stop offset="0" stop-color="#a6cc9c"/><stop offset="1" stop-color="#4c8a3c"/></linearGradient></defs>
<rect x="218.4" y="226.0" width="26.8" height="7.9" fill="url(#gr)"/>
<rect x="246.6" y="226.0" width="26.0" height="7.9" fill="url(#gg)"/>
<text x="219.50" y="215.80" font-size="5.4" text-anchor="middle" fill="#231f20" font-family="Liberation Serif">1.8</text>
<path d="M216.60,218.9 L219.50,220.5 L222.40,218.9 L219.50,225.3 Z" fill="#111"/>
<text x="246.00" y="215.80" font-size="5.4" text-anchor="middle" fill="#231f20" font-family="Liberation Serif">1</text>
<path d="M243.10,218.9 L246.00,220.5 L248.90,218.9 L246.00,225.3 Z" fill="#111"/>
<text x="272.50" y="215.80" font-size="5.4" text-anchor="middle" fill="#231f20" font-family="Liberation Serif">0.6</text>
<path d="M269.60,218.9 L272.50,220.5 L275.40,218.9 L272.50,225.3 Z" fill="#111"/>
<line x1="222.00" y1="238.50" x2="244.30" y2="238.50" stroke="#111" stroke-width="1.0" />
<path d="M217.7,238.5 L223.9,236.1 L222.4,238.5 L223.9,240.9 Z" fill="#111"/>
<line x1="246.80" y1="238.50" x2="268.60" y2="238.50" stroke="#111" stroke-width="1.0" />
<path d="M272.9,238.5 L266.7,236.1 L268.2,238.5 L266.7,240.9 Z" fill="#111"/>
<text x="219.40" y="248.30" font-size="5.3" text-anchor="middle" fill="#231f20" textLength="35.0" lengthAdjust="spacingAndGlyphs">Phosphorilated</text>
<text x="219.60" y="254.60" font-size="5.3" text-anchor="middle" fill="#231f20" textLength="39.2" lengthAdjust="spacingAndGlyphs">during treatment</text>
<text x="272.40" y="248.30" font-size="5.3" text-anchor="middle" fill="#231f20" textLength="41.0" lengthAdjust="spacingAndGlyphs">Dephosphorilated</text>
<text x="272.70" y="254.60" font-size="5.3" text-anchor="middle" fill="#231f20" textLength="39.6" lengthAdjust="spacingAndGlyphs">during treatment</text>
<text x="7.60" y="284.70" font-size="10.4" text-anchor="start" fill="#231f20" >C</text>
<line x1="59.10" y1="335.00" x2="59.10" y2="405.60" stroke="#333" stroke-width="1.3" />
<line x1="59.10" y1="307.20" x2="59.10" y2="327.40" stroke="#333" stroke-width="1.3" />
<line x1="58.50" y1="405.00" x2="472.90" y2="405.00" stroke="#333" stroke-width="1.3" />
<line x1="56.10" y1="405.00" x2="59.10" y2="405.00" stroke="#231f20" stroke-width="0.9" />
<text x="52.90" y="407.60" font-size="7.5" text-anchor="end" fill="#231f20" textLength="9.8" lengthAdjust="spacingAndGlyphs">0.0</text>
<line x1="56.10" y1="385.50" x2="59.10" y2="385.50" stroke="#231f20" stroke-width="0.9" />
<text x="52.90" y="388.10" font-size="7.5" text-anchor="end" fill="#231f20" textLength="9.8" lengthAdjust="spacingAndGlyphs">0.5</text>
<line x1="56.10" y1="366.00" x2="59.10" y2="366.00" stroke="#231f20" stroke-width="0.9" />
<text x="52.90" y="368.60" font-size="7.5" text-anchor="end" fill="#231f20" textLength="9.8" lengthAdjust="spacingAndGlyphs">1.0</text>
<line x1="56.10" y1="346.50" x2="59.10" y2="346.50" stroke="#231f20" stroke-width="0.9" />
<text x="52.90" y="349.10" font-size="7.5" text-anchor="end" fill="#231f20" textLength="9.8" lengthAdjust="spacingAndGlyphs">1.5</text>
<line x1="56.10" y1="310.30" x2="59.10" y2="310.30" stroke="#231f20" stroke-width="0.9" />
<text x="52.70" y="312.90" font-size="7.5" text-anchor="end" fill="#231f20" >4</text>
<line x1="56.10" y1="318.80" x2="59.10" y2="318.80" stroke="#231f20" stroke-width="0.9" />
<text x="52.70" y="321.40" font-size="7.5" text-anchor="end" fill="#231f20" >3</text>
<line x1="56.10" y1="327.30" x2="59.10" y2="327.30" stroke="#231f20" stroke-width="0.9" />
<text x="52.70" y="329.90" font-size="7.5" text-anchor="end" fill="#231f20" >2</text>
<line x1="56.10" y1="327.40" x2="62.10" y2="327.40" stroke="#333" stroke-width="1.1" />
<line x1="56.10" y1="335.00" x2="62.10" y2="335.00" stroke="#333" stroke-width="1.1" />
<text transform="translate(24.2,356.2) rotate(-90)" font-size="8.9" text-anchor="middle" fill="#231f20" textLength="113" lengthAdjust="spacingAndGlyphs">Phosphorilation signal ratio</text>
<text transform="translate(36.8,356.0) rotate(-90)" font-size="8.9" text-anchor="middle" fill="#231f20" textLength="76" lengthAdjust="spacingAndGlyphs">(paired antibodies)</text>
<line x1="64.30" y1="395.00" x2="75.10" y2="391.50" stroke="#111" stroke-width="0.85" />
<line x1="64.30" y1="396.50" x2="75.10" y2="392.80" stroke="#111" stroke-width="0.85" />
<line x1="64.30" y1="396.50" x2="75.10" y2="392.80" stroke="#111" stroke-width="0.85" />
<path d="M64.30,392.70 L66.60,395.00 L64.30,397.30 L62.00,395.00 Z" fill="#b8283e" stroke="#111" stroke-width="0.7"/>
<path d="M64.30,394.20 L66.60,396.50 L64.30,398.80 L62.00,396.50 Z" fill="#b8283e" stroke="#111" stroke-width="0.7"/>
<circle cx="75.10" cy="391.50" r="1.75" fill="#b8283e" stroke="#111" stroke-width="0.7"/>
<circle cx="75.10" cy="392.80" r="1.75" fill="#b8283e" stroke="#111" stroke-width="0.7"/>
<path d="M64.00,379.00 L64.00,377.00 L75.40,377.00 L75.40,379.00" fill="none" stroke="#2a2a2a" stroke-width="1.15" stroke-linejoin="round" stroke-linecap="round"/>
<circle cx="69.70" cy="373.10" r="1.15" fill="#2a2a2a" stroke="none" stroke-width="0"/>
<line x1="80.82" y1="309.80" x2="80.82" y2="436.00" stroke="#222" stroke-width="0.9" stroke-dasharray="0.9 1.1"/>
<line x1="80.82" y1="436.00" x2="77.42" y2="439.60" stroke="#222" stroke-width="0.9" stroke-dasharray="0.9 1.1"/>
<line x1="86.02" y1="369.25" x2="96.82" y2="357.50" stroke="#111" stroke-width="0.85" />
<line x1="86.02" y1="373.00" x2="96.82" y2="365.00" stroke="#111" stroke-width="0.85" />
<line x1="86.02" y1="373.00" x2="96.82" y2="365.00" stroke="#111" stroke-width="0.85" />
<path d="M86.02,366.95 L88.32,369.25 L86.02,371.55 L83.72,369.25 Z" fill="#b8283e" stroke="#111" stroke-width="0.7"/>
<path d="M86.02,370.70 L88.32,373.00 L86.02,375.30 L83.72,373.00 Z" fill="#b8283e" stroke="#111" stroke-width="0.7"/>
<circle cx="96.82" cy="357.50" r="1.75" fill="#b8283e" stroke="#111" stroke-width="0.7"/>
<circle cx="96.82" cy="365.00" r="1.75" fill="#b8283e" stroke="#111" stroke-width="0.7"/>
<path d="M85.72,350.25 L85.72,348.25 L97.12,348.25 L97.12,350.25" fill="none" stroke="#2a2a2a" stroke-width="1.15" stroke-linejoin="round" stroke-linecap="round"/>
<circle cx="91.42" cy="344.35" r="1.15" fill="#2a2a2a" stroke="none" stroke-width="0"/>
<line x1="102.54" y1="309.80" x2="102.54" y2="436.00" stroke="#222" stroke-width="0.9" stroke-dasharray="0.9 1.1"/>
<line x1="102.54" y1="436.00" x2="99.14" y2="439.60" stroke="#222" stroke-width="0.9" stroke-dasharray="0.9 1.1"/>
<line x1="107.74" y1="387.00" x2="118.54" y2="376.25" stroke="#111" stroke-width="0.85" />
<line x1="107.74" y1="390.00" x2="118.54" y2="379.50" stroke="#111" stroke-width="0.85" />
<line x1="107.74" y1="390.00" x2="118.54" y2="383.00" stroke="#111" stroke-width="0.85" />
<path d="M107.74,384.70 L110.04,387.00 L107.74,389.30 L105.44,387.00 Z" fill="#b8283e" stroke="#111" stroke-width="0.7"/>
<path d="M107.74,387.70 L110.04,390.00 L107.74,392.30 L105.44,390.00 Z" fill="#b8283e" stroke="#111" stroke-width="0.7"/>
<circle cx="118.54" cy="376.25" r="1.75" fill="#b8283e" stroke="#111" stroke-width="0.7"/>
<circle cx="118.54" cy="379.50" r="1.75" fill="#b8283e" stroke="#111" stroke-width="0.7"/>
<circle cx="118.54" cy="383.00" r="1.75" fill="#b8283e" stroke="#111" stroke-width="0.7"/>
<path d="M107.44,370.25 L107.44,368.25 L118.84,368.25 L118.84,370.25" fill="none" stroke="#2a2a2a" stroke-width="1.15" stroke-linejoin="round" stroke-linecap="round"/>
<circle cx="111.59" cy="364.45" r="1.1" fill="#2a2a2a" stroke="none" stroke-width="0"/>
<circle cx="114.69" cy="364.45" r="1.1" fill="#2a2a2a" stroke="none" stroke-width="0"/>
<line x1="124.26" y1="309.80" x2="124.26" y2="436.00" stroke="#222" stroke-width="0.9" stroke-dasharray="0.9 1.1"/>
<line x1="124.26" y1="436.00" x2="120.86" y2="439.60" stroke="#222" stroke-width="0.9" stroke-dasharray="0.9 1.1"/>
<line x1="129.46" y1="365.75" x2="140.26" y2="348.25" stroke="#111" stroke-width="0.85" />
<line x1="129.46" y1="368.75" x2="140.26" y2="356.75" stroke="#111" stroke-width="0.85" />
<line x1="129.46" y1="368.75" x2="140.26" y2="356.75" stroke="#111" stroke-width="0.85" />
<path d="M129.46,363.45 L131.76,365.75 L129.46,368.05 L127.16,365.75 Z" fill="#b8283e" stroke="#111" stroke-width="0.7"/>
<path d="M129.46,366.45 L131.76,368.75 L129.46,371.05 L127.16,368.75 Z" fill="#b8283e" stroke="#111" stroke-width="0.7"/>
<circle cx="140.26" cy="348.25" r="1.75" fill="#b8283e" stroke="#111" stroke-width="0.7"/>
<circle cx="140.26" cy="356.75" r="1.75" fill="#b8283e" stroke="#111" stroke-width="0.7"/>
<path d="M129.16,339.00 L129.16,337.00 L140.56,337.00 L140.56,339.00" fill="none" stroke="#2a2a2a" stroke-width="1.15" stroke-linejoin="round" stroke-linecap="round"/>
<circle cx="134.86" cy="333.10" r="1.15" fill="#2a2a2a" stroke="none" stroke-width="0"/>
<line x1="145.98" y1="309.80" x2="145.98" y2="436.00" stroke="#222" stroke-width="0.9" stroke-dasharray="0.9 1.1"/>
<line x1="145.98" y1="436.00" x2="142.58" y2="439.60" stroke="#222" stroke-width="0.9" stroke-dasharray="0.9 1.1"/>
<line x1="151.18" y1="367.50" x2="161.98" y2="356.25" stroke="#111" stroke-width="0.85" />
<line x1="151.18" y1="369.25" x2="161.98" y2="359.25" stroke="#111" stroke-width="0.85" />
<line x1="151.18" y1="370.75" x2="161.98" y2="362.50" stroke="#111" stroke-width="0.85" />
<path d="M151.18,365.20 L153.48,367.50 L151.18,369.80 L148.88,367.50 Z" fill="#b8283e" stroke="#111" stroke-width="0.7"/>
<path d="M151.18,366.95 L153.48,369.25 L151.18,371.55 L148.88,369.25 Z" fill="#b8283e" stroke="#111" stroke-width="0.7"/>
<path d="M151.18,368.45 L153.48,370.75 L151.18,373.05 L148.88,370.75 Z" fill="#b8283e" stroke="#111" stroke-width="0.7"/>
<circle cx="161.98" cy="356.25" r="1.75" fill="#b8283e" stroke="#111" stroke-width="0.7"/>
<circle cx="161.98" cy="359.25" r="1.75" fill="#b8283e" stroke="#111" stroke-width="0.7"/>
<circle cx="161.98" cy="362.50" r="1.75" fill="#b8283e" stroke="#111" stroke-width="0.7"/>
<path d="M150.88,342.25 L150.88,340.25 L162.28,340.25 L162.28,342.25" fill="none" stroke="#2a2a2a" stroke-width="1.15" stroke-linejoin="round" stroke-linecap="round"/>
<circle cx="155.03" cy="336.45" r="1.1" fill="#2a2a2a" stroke="none" stroke-width="0"/>
<circle cx="158.13" cy="336.45" r="1.1" fill="#2a2a2a" stroke="none" stroke-width="0"/>
<line x1="167.70" y1="309.80" x2="167.70" y2="436.00" stroke="#222" stroke-width="0.9" stroke-dasharray="0.9 1.1"/>
<line x1="167.70" y1="436.00" x2="164.30" y2="439.60" stroke="#222" stroke-width="0.9" stroke-dasharray="0.9 1.1"/>
<line x1="172.90" y1="372.00" x2="183.70" y2="360.00" stroke="#111" stroke-width="0.85" />
<line x1="172.90" y1="373.75" x2="183.70" y2="368.25" stroke="#111" stroke-width="0.85" />
<line x1="172.90" y1="373.75" x2="183.70" y2="368.25" stroke="#111" stroke-width="0.85" />
<path d="M172.90,369.70 L175.20,372.00 L172.90,374.30 L170.60,372.00 Z" fill="#b8283e" stroke="#111" stroke-width="0.7"/>
<path d="M172.90,371.45 L175.20,373.75 L172.90,376.05 L170.60,373.75 Z" fill="#b8283e" stroke="#111" stroke-width="0.7"/>
<circle cx="183.70" cy="360.00" r="1.75" fill="#b8283e" stroke="#111" stroke-width="0.7"/>
<circle cx="183.70" cy="368.25" r="1.75" fill="#b8283e" stroke="#111" stroke-width="0.7"/>
<path d="M172.60,342.00 L172.60,340.00 L184.00,340.00 L184.00,342.00" fill="none" stroke="#2a2a2a" stroke-width="1.15" stroke-linejoin="round" stroke-linecap="round"/>
<circle cx="178.30" cy="336.10" r="1.15" fill="#2a2a2a" stroke="none" stroke-width="0"/>
<line x1="189.42" y1="309.80" x2="189.42" y2="436.00" stroke="#222" stroke-width="0.9" stroke-dasharray="0.9 1.1"/>
<line x1="189.42" y1="436.00" x2="186.02" y2="439.60" stroke="#222" stroke-width="0.9" stroke-dasharray="0.9 1.1"/>
<line x1="194.62" y1="375.00" x2="205.42" y2="361.25" stroke="#111" stroke-width="0.85" />
<line x1="194.62" y1="376.50" x2="205.42" y2="368.00" stroke="#111" stroke-width="0.85" />
<line x1="194.62" y1="376.50" x2="205.42" y2="368.00" stroke="#111" stroke-width="0.85" />
<path d="M194.62,372.70 L196.92,375.00 L194.62,377.30 L192.32,375.00 Z" fill="#b8283e" stroke="#111" stroke-width="0.7"/>
<path d="M194.62,374.20 L196.92,376.50 L194.62,378.80 L192.32,376.50 Z" fill="#b8283e" stroke="#111" stroke-width="0.7"/>
<circle cx="205.42" cy="361.25" r="1.75" fill="#b8283e" stroke="#111" stroke-width="0.7"/>
<circle cx="205.42" cy="368.00" r="1.75" fill="#b8283e" stroke="#111" stroke-width="0.7"/>
<path d="M194.32,342.00 L194.32,340.00 L205.72,340.00 L205.72,342.00" fill="none" stroke="#2a2a2a" stroke-width="1.15" stroke-linejoin="round" stroke-linecap="round"/>
<circle cx="200.02" cy="336.10" r="1.15" fill="#2a2a2a" stroke="none" stroke-width="0"/>
<line x1="211.14" y1="309.80" x2="211.14" y2="436.00" stroke="#222" stroke-width="0.9" stroke-dasharray="0.9 1.1"/>
<line x1="211.14" y1="436.00" x2="207.74" y2="439.60" stroke="#222" stroke-width="0.9" stroke-dasharray="0.9 1.1"/>
<line x1="216.34" y1="315.50" x2="227.14" y2="311.50" stroke="#111" stroke-width="0.85" />
<line x1="216.34" y1="318.00" x2="227.14" y2="313.00" stroke="#111" stroke-width="0.85" />
<line x1="216.34" y1="320.50" x2="227.14" y2="313.00" stroke="#111" stroke-width="0.85" />
<path d="M216.34,313.20 L218.64,315.50 L216.34,317.80 L214.04,315.50 Z" fill="#b8283e" stroke="#111" stroke-width="0.7"/>
<path d="M216.34,315.70 L218.64,318.00 L216.34,320.30 L214.04,318.00 Z" fill="#b8283e" stroke="#111" stroke-width="0.7"/>
<path d="M216.34,318.20 L218.64,320.50 L216.34,322.80 L214.04,320.50 Z" fill="#b8283e" stroke="#111" stroke-width="0.7"/>
<circle cx="227.14" cy="311.50" r="1.75" fill="#b8283e" stroke="#111" stroke-width="0.7"/>
<circle cx="227.14" cy="313.00" r="1.75" fill="#b8283e" stroke="#111" stroke-width="0.7"/>
<path d="M216.04,304.50 L216.04,302.50 L227.44,302.50 L227.44,304.50" fill="none" stroke="#2a2a2a" stroke-width="1.15" stroke-linejoin="round" stroke-linecap="round"/>
<circle cx="221.74" cy="298.60" r="1.15" fill="#2a2a2a" stroke="none" stroke-width="0"/>
<line x1="232.86" y1="309.80" x2="232.86" y2="436.00" stroke="#222" stroke-width="0.9" stroke-dasharray="0.9 1.1"/>
<line x1="232.86" y1="436.00" x2="229.46" y2="439.60" stroke="#222" stroke-width="0.9" stroke-dasharray="0.9 1.1"/>
<line x1="238.06" y1="356.25" x2="248.86" y2="340.50" stroke="#111" stroke-width="0.85" />
<line x1="238.06" y1="365.75" x2="248.86" y2="347.00" stroke="#111" stroke-width="0.85" />
<line x1="238.06" y1="365.75" x2="248.86" y2="357.00" stroke="#111" stroke-width="0.85" />
<path d="M238.06,353.95 L240.36,356.25 L238.06,358.55 L235.76,356.25 Z" fill="#b8283e" stroke="#111" stroke-width="0.7"/>
<path d="M238.06,363.45 L240.36,365.75 L238.06,368.05 L235.76,365.75 Z" fill="#b8283e" stroke="#111" stroke-width="0.7"/>
<circle cx="248.86" cy="340.50" r="1.75" fill="#b8283e" stroke="#111" stroke-width="0.7"/>
<circle cx="248.86" cy="347.00" r="1.75" fill="#b8283e" stroke="#111" stroke-width="0.7"/>
<circle cx="248.86" cy="357.00" r="1.75" fill="#b8283e" stroke="#111" stroke-width="0.7"/>
<path d="M237.76,334.50 L237.76,332.50 L249.16,332.50 L249.16,334.50" fill="none" stroke="#2a2a2a" stroke-width="1.15" stroke-linejoin="round" stroke-linecap="round"/>
<circle cx="243.46" cy="328.60" r="1.15" fill="#2a2a2a" stroke="none" stroke-width="0"/>
<line x1="254.58" y1="309.80" x2="254.58" y2="436.00" stroke="#222" stroke-width="0.9" stroke-dasharray="0.9 1.1"/>
<line x1="254.58" y1="436.00" x2="251.18" y2="439.60" stroke="#222" stroke-width="0.9" stroke-dasharray="0.9 1.1"/>
<line x1="259.78" y1="358.75" x2="270.58" y2="353.75" stroke="#111" stroke-width="0.85" />
<line x1="259.78" y1="362.00" x2="270.58" y2="354.50" stroke="#111" stroke-width="0.85" />
<line x1="259.78" y1="363.75" x2="270.58" y2="354.50" stroke="#111" stroke-width="0.85" />
<path d="M259.78,356.45 L262.08,358.75 L259.78,361.05 L257.48,358.75 Z" fill="#b8283e" stroke="#111" stroke-width="0.7"/>
<path d="M259.78,359.70 L262.08,362.00 L259.78,364.30 L257.48,362.00 Z" fill="#b8283e" stroke="#111" stroke-width="0.7"/>
<path d="M259.78,361.45 L262.08,363.75 L259.78,366.05 L257.48,363.75 Z" fill="#b8283e" stroke="#111" stroke-width="0.7"/>
<circle cx="270.58" cy="353.75" r="1.75" fill="#b8283e" stroke="#111" stroke-width="0.7"/>
<circle cx="270.58" cy="354.50" r="1.75" fill="#b8283e" stroke="#111" stroke-width="0.7"/>
<path d="M259.48,342.00 L259.48,340.00 L270.88,340.00 L270.88,342.00" fill="none" stroke="#2a2a2a" stroke-width="1.15" stroke-linejoin="round" stroke-linecap="round"/>
<circle cx="265.18" cy="336.10" r="1.15" fill="#2a2a2a" stroke="none" stroke-width="0"/>
<line x1="276.30" y1="309.80" x2="276.30" y2="436.00" stroke="#222" stroke-width="0.9" stroke-dasharray="0.9 1.1"/>
<line x1="276.30" y1="436.00" x2="272.90" y2="439.60" stroke="#222" stroke-width="0.9" stroke-dasharray="0.9 1.1"/>
<line x1="281.50" y1="374.50" x2="292.30" y2="353.75" stroke="#111" stroke-width="0.85" />
<line x1="281.50" y1="377.00" x2="292.30" y2="366.25" stroke="#111" stroke-width="0.85" />
<line x1="281.50" y1="380.75" x2="292.30" y2="366.25" stroke="#111" stroke-width="0.85" />
<path d="M281.50,372.20 L283.80,374.50 L281.50,376.80 L279.20,374.50 Z" fill="#b8283e" stroke="#111" stroke-width="0.7"/>
<path d="M281.50,374.70 L283.80,377.00 L281.50,379.30 L279.20,377.00 Z" fill="#b8283e" stroke="#111" stroke-width="0.7"/>
<path d="M281.50,378.45 L283.80,380.75 L281.50,383.05 L279.20,380.75 Z" fill="#b8283e" stroke="#111" stroke-width="0.7"/>
<circle cx="292.30" cy="353.75" r="1.75" fill="#b8283e" stroke="#111" stroke-width="0.7"/>
<circle cx="292.30" cy="366.25" r="1.75" fill="#b8283e" stroke="#111" stroke-width="0.7"/>
<path d="M281.20,342.00 L281.20,340.00 L292.60,340.00 L292.60,342.00" fill="none" stroke="#2a2a2a" stroke-width="1.15" stroke-linejoin="round" stroke-linecap="round"/>
<circle cx="286.90" cy="336.10" r="1.15" fill="#2a2a2a" stroke="none" stroke-width="0"/>
<line x1="298.02" y1="309.80" x2="298.02" y2="436.00" stroke="#222" stroke-width="0.9" stroke-dasharray="0.9 1.1"/>
<line x1="298.02" y1="436.00" x2="294.62" y2="439.60" stroke="#222" stroke-width="0.9" stroke-dasharray="0.9 1.1"/>
<line x1="303.22" y1="395.75" x2="314.02" y2="387.00" stroke="#111" stroke-width="0.85" />
<line x1="303.22" y1="397.00" x2="314.02" y2="389.50" stroke="#111" stroke-width="0.85" />
<line x1="303.22" y1="397.00" x2="314.02" y2="392.00" stroke="#111" stroke-width="0.85" />
<path d="M303.22,393.45 L305.52,395.75 L303.22,398.05 L300.92,395.75 Z" fill="#b8283e" stroke="#111" stroke-width="0.7"/>
<path d="M303.22,394.70 L305.52,397.00 L303.22,399.30 L300.92,397.00 Z" fill="#b8283e" stroke="#111" stroke-width="0.7"/>
<circle cx="314.02" cy="387.00" r="1.75" fill="#b8283e" stroke="#111" stroke-width="0.7"/>
<circle cx="314.02" cy="389.50" r="1.75" fill="#b8283e" stroke="#111" stroke-width="0.7"/>
<circle cx="314.02" cy="392.00" r="1.75" fill="#b8283e" stroke="#111" stroke-width="0.7"/>
<path d="M302.92,377.50 L302.92,375.50 L314.32,375.50 L314.32,377.50" fill="none" stroke="#2a2a2a" stroke-width="1.15" stroke-linejoin="round" stroke-linecap="round"/>
<circle cx="308.62" cy="371.60" r="1.15" fill="#2a2a2a" stroke="none" stroke-width="0"/>
<line x1="319.74" y1="309.80" x2="319.74" y2="436.00" stroke="#222" stroke-width="0.9" stroke-dasharray="0.9 1.1"/>
<line x1="319.74" y1="436.00" x2="316.34" y2="439.60" stroke="#222" stroke-width="0.9" stroke-dasharray="0.9 1.1"/>
<line x1="324.94" y1="369.50" x2="335.74" y2="365.50" stroke="#111" stroke-width="0.85" />
<line x1="324.94" y1="375.50" x2="335.74" y2="370.50" stroke="#111" stroke-width="0.85" />
<line x1="324.94" y1="375.50" x2="335.74" y2="370.50" stroke="#111" stroke-width="0.85" />
<path d="M324.94,367.20 L327.24,369.50 L324.94,371.80 L322.64,369.50 Z" fill="#b8283e" stroke="#111" stroke-width="0.7"/>
<path d="M324.94,373.20 L327.24,375.50 L324.94,377.80 L322.64,375.50 Z" fill="#b8283e" stroke="#111" stroke-width="0.7"/>
<circle cx="335.74" cy="365.50" r="1.75" fill="#b8283e" stroke="#111" stroke-width="0.7"/>
<circle cx="335.74" cy="370.50" r="1.75" fill="#b8283e" stroke="#111" stroke-width="0.7"/>
<path d="M324.64,342.00 L324.64,340.00 L336.04,340.00 L336.04,342.00" fill="none" stroke="#2a2a2a" stroke-width="1.15" stroke-linejoin="round" stroke-linecap="round"/>
<circle cx="330.34" cy="336.10" r="1.15" fill="#2a2a2a" stroke="none" stroke-width="0"/>
<line x1="341.46" y1="309.80" x2="341.46" y2="436.00" stroke="#222" stroke-width="0.9" stroke-dasharray="0.9 1.1"/>
<line x1="341.46" y1="436.00" x2="338.06" y2="439.60" stroke="#222" stroke-width="0.9" stroke-dasharray="0.9 1.1"/>
<line x1="346.66" y1="370.00" x2="357.46" y2="355.00" stroke="#111" stroke-width="0.85" />
<line x1="346.66" y1="373.00" x2="357.46" y2="357.00" stroke="#111" stroke-width="0.85" />
<line x1="346.66" y1="375.50" x2="357.46" y2="357.00" stroke="#111" stroke-width="0.85" />
<path d="M346.66,367.70 L348.96,370.00 L346.66,372.30 L344.36,370.00 Z" fill="#b8283e" stroke="#111" stroke-width="0.7"/>
<path d="M346.66,370.70 L348.96,373.00 L346.66,375.30 L344.36,373.00 Z" fill="#b8283e" stroke="#111" stroke-width="0.7"/>
<path d="M346.66,373.20 L348.96,375.50 L346.66,377.80 L344.36,375.50 Z" fill="#b8283e" stroke="#111" stroke-width="0.7"/>
<circle cx="357.46" cy="355.00" r="1.75" fill="#b8283e" stroke="#111" stroke-width="0.7"/>
<circle cx="357.46" cy="357.00" r="1.75" fill="#b8283e" stroke="#111" stroke-width="0.7"/>
<path d="M346.36,342.00 L346.36,340.00 L357.76,340.00 L357.76,342.00" fill="none" stroke="#2a2a2a" stroke-width="1.15" stroke-linejoin="round" stroke-linecap="round"/>
<circle cx="352.06" cy="336.10" r="1.15" fill="#2a2a2a" stroke="none" stroke-width="0"/>
<line x1="363.18" y1="309.80" x2="363.18" y2="436.00" stroke="#222" stroke-width="0.9" stroke-dasharray="0.9 1.1"/>
<line x1="363.18" y1="436.00" x2="359.78" y2="439.60" stroke="#222" stroke-width="0.9" stroke-dasharray="0.9 1.1"/>
<line x1="368.38" y1="360.75" x2="379.18" y2="347.50" stroke="#111" stroke-width="0.85" />
<line x1="368.38" y1="367.50" x2="379.18" y2="351.75" stroke="#111" stroke-width="0.85" />
<line x1="368.38" y1="369.50" x2="379.18" y2="356.75" stroke="#111" stroke-width="0.85" />
<path d="M368.38,358.45 L370.68,360.75 L368.38,363.05 L366.08,360.75 Z" fill="#b8283e" stroke="#111" stroke-width="0.7"/>
<path d="M368.38,365.20 L370.68,367.50 L368.38,369.80 L366.08,367.50 Z" fill="#b8283e" stroke="#111" stroke-width="0.7"/>
<path d="M368.38,367.20 L370.68,369.50 L368.38,371.80 L366.08,369.50 Z" fill="#b8283e" stroke="#111" stroke-width="0.7"/>
<circle cx="379.18" cy="347.50" r="1.75" fill="#b8283e" stroke="#111" stroke-width="0.7"/>
<circle cx="379.18" cy="351.75" r="1.75" fill="#b8283e" stroke="#111" stroke-width="0.7"/>
<circle cx="379.18" cy="356.75" r="1.75" fill="#b8283e" stroke="#111" stroke-width="0.7"/>
<path d="M368.08,342.00 L368.08,340.00 L379.48,340.00 L379.48,342.00" fill="none" stroke="#2a2a2a" stroke-width="1.15" stroke-linejoin="round" stroke-linecap="round"/>
<circle cx="373.78" cy="336.10" r="1.15" fill="#2a2a2a" stroke="none" stroke-width="0"/>
<line x1="384.90" y1="309.80" x2="384.90" y2="436.00" stroke="#222" stroke-width="0.9" stroke-dasharray="0.9 1.1"/>
<line x1="384.90" y1="436.00" x2="381.50" y2="439.60" stroke="#222" stroke-width="0.9" stroke-dasharray="0.9 1.1"/>
<line x1="390.10" y1="362.00" x2="400.90" y2="341.25" stroke="#111" stroke-width="0.85" />
<line x1="390.10" y1="368.25" x2="400.90" y2="346.25" stroke="#111" stroke-width="0.85" />
<line x1="390.10" y1="368.25" x2="400.90" y2="347.50" stroke="#111" stroke-width="0.85" />
<path d="M390.10,359.70 L392.40,362.00 L390.10,364.30 L387.80,362.00 Z" fill="#b8283e" stroke="#111" stroke-width="0.7"/>
<path d="M390.10,365.95 L392.40,368.25 L390.10,370.55 L387.80,368.25 Z" fill="#b8283e" stroke="#111" stroke-width="0.7"/>
<circle cx="400.90" cy="341.25" r="1.75" fill="#b8283e" stroke="#111" stroke-width="0.7"/>
<circle cx="400.90" cy="346.25" r="1.75" fill="#b8283e" stroke="#111" stroke-width="0.7"/>
<circle cx="400.90" cy="347.50" r="1.75" fill="#b8283e" stroke="#111" stroke-width="0.7"/>
<path d="M389.80,332.75 L389.80,330.75 L401.20,330.75 L401.20,332.75" fill="none" stroke="#2a2a2a" stroke-width="1.15" stroke-linejoin="round" stroke-linecap="round"/>
<circle cx="395.50" cy="326.85" r="1.15" fill="#2a2a2a" stroke="none" stroke-width="0"/>
<line x1="406.62" y1="309.80" x2="406.62" y2="436.00" stroke="#222" stroke-width="0.9" stroke-dasharray="0.9 1.1"/>
<line x1="406.62" y1="436.00" x2="403.22" y2="439.60" stroke="#222" stroke-width="0.9" stroke-dasharray="0.9 1.1"/>
<line x1="411.82" y1="363.00" x2="422.62" y2="346.25" stroke="#111" stroke-width="0.85" />
<line x1="411.82" y1="368.75" x2="422.62" y2="350.50" stroke="#111" stroke-width="0.85" />
<line x1="411.82" y1="370.50" x2="422.62" y2="355.00" stroke="#111" stroke-width="0.85" />
<path d="M411.82,360.70 L414.12,363.00 L411.82,365.30 L409.52,363.00 Z" fill="#b8283e" stroke="#111" stroke-width="0.7"/>
<path d="M411.82,366.45 L414.12,368.75 L411.82,371.05 L409.52,368.75 Z" fill="#b8283e" stroke="#111" stroke-width="0.7"/>
<path d="M411.82,368.20 L414.12,370.50 L411.82,372.80 L409.52,370.50 Z" fill="#b8283e" stroke="#111" stroke-width="0.7"/>
<circle cx="422.62" cy="346.25" r="1.75" fill="#b8283e" stroke="#111" stroke-width="0.7"/>
<circle cx="422.62" cy="350.50" r="1.75" fill="#b8283e" stroke="#111" stroke-width="0.7"/>
<circle cx="422.62" cy="355.00" r="1.75" fill="#b8283e" stroke="#111" stroke-width="0.7"/>
<path d="M411.52,341.25 L411.52,339.25 L422.92,339.25 L422.92,341.25" fill="none" stroke="#2a2a2a" stroke-width="1.15" stroke-linejoin="round" stroke-linecap="round"/>
<circle cx="417.22" cy="335.35" r="1.15" fill="#2a2a2a" stroke="none" stroke-width="0"/>
<line x1="428.34" y1="309.80" x2="428.34" y2="436.00" stroke="#222" stroke-width="0.9" stroke-dasharray="0.9 1.1"/>
<line x1="428.34" y1="436.00" x2="424.94" y2="439.60" stroke="#222" stroke-width="0.9" stroke-dasharray="0.9 1.1"/>
<line x1="433.54" y1="362.50" x2="444.34" y2="355.00" stroke="#111" stroke-width="0.85" />
<line x1="433.54" y1="370.00" x2="444.34" y2="362.00" stroke="#111" stroke-width="0.85" />
<line x1="433.54" y1="370.00" x2="444.34" y2="366.25" stroke="#111" stroke-width="0.85" />
<path d="M433.54,360.20 L435.84,362.50 L433.54,364.80 L431.24,362.50 Z" fill="#b8283e" stroke="#111" stroke-width="0.7"/>
<path d="M433.54,367.70 L435.84,370.00 L433.54,372.30 L431.24,370.00 Z" fill="#b8283e" stroke="#111" stroke-width="0.7"/>
<circle cx="444.34" cy="355.00" r="1.75" fill="#b8283e" stroke="#111" stroke-width="0.7"/>
<circle cx="444.34" cy="362.00" r="1.75" fill="#b8283e" stroke="#111" stroke-width="0.7"/>
<circle cx="444.34" cy="366.25" r="1.75" fill="#b8283e" stroke="#111" stroke-width="0.7"/>
<path d="M433.24,341.25 L433.24,339.25 L444.64,339.25 L444.64,341.25" fill="none" stroke="#2a2a2a" stroke-width="1.15" stroke-linejoin="round" stroke-linecap="round"/>
<circle cx="438.94" cy="335.35" r="1.15" fill="#2a2a2a" stroke="none" stroke-width="0"/>
<line x1="450.06" y1="309.80" x2="450.06" y2="436.00" stroke="#222" stroke-width="0.9" stroke-dasharray="0.9 1.1"/>
<line x1="450.06" y1="436.00" x2="446.66" y2="439.60" stroke="#222" stroke-width="0.9" stroke-dasharray="0.9 1.1"/>
<line x1="455.26" y1="380.75" x2="466.06" y2="377.00" stroke="#111" stroke-width="0.85" />
<line x1="455.26" y1="382.50" x2="466.06" y2="377.00" stroke="#111" stroke-width="0.85" />
<line x1="455.26" y1="382.50" x2="466.06" y2="377.00" stroke="#111" stroke-width="0.85" />
<path d="M455.26,378.45 L457.56,380.75 L455.26,383.05 L452.96,380.75 Z" fill="#b8283e" stroke="#111" stroke-width="0.7"/>
<path d="M455.26,380.20 L457.56,382.50 L455.26,384.80 L452.96,382.50 Z" fill="#b8283e" stroke="#111" stroke-width="0.7"/>
<circle cx="466.06" cy="377.00" r="1.75" fill="#b8283e" stroke="#111" stroke-width="0.7"/>
<path d="M454.96,369.00 L454.96,367.00 L466.36,367.00 L466.36,369.00" fill="none" stroke="#2a2a2a" stroke-width="1.15" stroke-linejoin="round" stroke-linecap="round"/>
<circle cx="460.66" cy="363.10" r="1.15" fill="#2a2a2a" stroke="none" stroke-width="0"/>
<line x1="59.10" y1="454.80" x2="59.10" y2="549.20" stroke="#333" stroke-width="1.3" />
<line x1="58.50" y1="548.60" x2="409.60" y2="548.60" stroke="#333" stroke-width="1.3" />
<line x1="56.10" y1="548.60" x2="59.10" y2="548.60" stroke="#231f20" stroke-width="0.9" />
<text x="52.90" y="551.20" font-size="7.5" text-anchor="end" fill="#231f20" textLength="9.8" lengthAdjust="spacingAndGlyphs">0.0</text>
<line x1="56.10" y1="523.95" x2="59.10" y2="523.95" stroke="#231f20" stroke-width="0.9" />
<text x="52.90" y="526.55" font-size="7.5" text-anchor="end" fill="#231f20" textLength="9.8" lengthAdjust="spacingAndGlyphs">0.5</text>
<line x1="56.10" y1="499.30" x2="59.10" y2="499.30" stroke="#231f20" stroke-width="0.9" />
<text x="52.90" y="501.90" font-size="7.5" text-anchor="end" fill="#231f20" textLength="9.8" lengthAdjust="spacingAndGlyphs">1.0</text>
<line x1="56.10" y1="474.65" x2="59.10" y2="474.65" stroke="#231f20" stroke-width="0.9" />
<text x="52.90" y="477.25" font-size="7.5" text-anchor="end" fill="#231f20" textLength="9.8" lengthAdjust="spacingAndGlyphs">1.5</text>
<text transform="translate(24.1,502) rotate(-90)" font-size="8.9" text-anchor="middle" fill="#231f20" textLength="124.6" lengthAdjust="spacingAndGlyphs">Dephosphorilation signal ratio</text>
<text transform="translate(36.5,502) rotate(-90)" font-size="8.9" text-anchor="middle" fill="#231f20" textLength="76.8" lengthAdjust="spacingAndGlyphs">(paired antibodies)</text>
<line x1="66.10" y1="477.80" x2="80.80" y2="488.50" stroke="#111" stroke-width="0.85" />
<line x1="66.10" y1="477.80" x2="80.80" y2="494.90" stroke="#111" stroke-width="0.85" />
<line x1="66.10" y1="489.00" x2="80.80" y2="507.70" stroke="#111" stroke-width="0.85" />
<path d="M66.10,475.40 L68.50,477.80 L66.10,480.20 L63.70,477.80 Z" fill="#62a644" stroke="#111" stroke-width="0.7"/>
<path d="M66.10,475.40 L68.50,477.80 L66.10,480.20 L63.70,477.80 Z" fill="#62a644" stroke="#111" stroke-width="0.7"/>
<path d="M66.10,486.60 L68.50,489.00 L66.10,491.40 L63.70,489.00 Z" fill="#62a644" stroke="#111" stroke-width="0.7"/>
<circle cx="80.80" cy="488.50" r="1.8" fill="#62a644" stroke="#111" stroke-width="0.7"/>
<circle cx="80.80" cy="494.90" r="1.8" fill="#62a644" stroke="#111" stroke-width="0.7"/>
<circle cx="80.80" cy="507.70" r="1.8" fill="#62a644" stroke="#111" stroke-width="0.7"/>
<path d="M65.70,464.80 L65.70,462.80 L81.10,462.80 L81.10,464.80" fill="none" stroke="#2a2a2a" stroke-width="1.15" stroke-linejoin="round" stroke-linecap="round"/>
<circle cx="73.40" cy="458.90" r="1.15" fill="#2a2a2a" stroke="none" stroke-width="0"/>
<line x1="88.17" y1="454.00" x2="88.17" y2="579.60" stroke="#222" stroke-width="0.9" stroke-dasharray="0.9 1.1"/>
<line x1="88.17" y1="579.60" x2="84.77" y2="583.20" stroke="#222" stroke-width="0.9" stroke-dasharray="0.9 1.1"/>
<line x1="95.27" y1="483.40" x2="109.97" y2="500.50" stroke="#111" stroke-width="0.85" />
<line x1="95.27" y1="491.10" x2="109.97" y2="505.60" stroke="#111" stroke-width="0.85" />
<line x1="95.27" y1="499.30" x2="109.97" y2="512.00" stroke="#111" stroke-width="0.85" />
<path d="M95.27,481.00 L97.67,483.40 L95.27,485.80 L92.87,483.40 Z" fill="#62a644" stroke="#111" stroke-width="0.7"/>
<path d="M95.27,488.70 L97.67,491.10 L95.27,493.50 L92.87,491.10 Z" fill="#62a644" stroke="#111" stroke-width="0.7"/>
<path d="M95.27,496.90 L97.67,499.30 L95.27,501.70 L92.87,499.30 Z" fill="#62a644" stroke="#111" stroke-width="0.7"/>
<circle cx="109.97" cy="500.50" r="1.8" fill="#62a644" stroke="#111" stroke-width="0.7"/>
<circle cx="109.97" cy="505.60" r="1.8" fill="#62a644" stroke="#111" stroke-width="0.7"/>
<circle cx="109.97" cy="512.00" r="1.8" fill="#62a644" stroke="#111" stroke-width="0.7"/>
<path d="M94.87,464.80 L94.87,462.80 L110.27,462.80 L110.27,464.80" fill="none" stroke="#2a2a2a" stroke-width="1.15" stroke-linejoin="round" stroke-linecap="round"/>
<circle cx="101.02" cy="459.00" r="1.1" fill="#2a2a2a" stroke="none" stroke-width="0"/>
<circle cx="104.12" cy="459.00" r="1.1" fill="#2a2a2a" stroke="none" stroke-width="0"/>
<line x1="117.34" y1="454.00" x2="117.34" y2="579.60" stroke="#222" stroke-width="0.9" stroke-dasharray="0.9 1.1"/>
<line x1="117.34" y1="579.60" x2="113.94" y2="583.20" stroke="#222" stroke-width="0.9" stroke-dasharray="0.9 1.1"/>
<line x1="124.44" y1="496.25" x2="139.14" y2="505.75" stroke="#111" stroke-width="0.85" />
<line x1="124.44" y1="504.50" x2="139.14" y2="516.75" stroke="#111" stroke-width="0.85" />
<line x1="124.44" y1="510.50" x2="139.14" y2="516.75" stroke="#111" stroke-width="0.85" />
<path d="M124.44,493.85 L126.84,496.25 L124.44,498.65 L122.04,496.25 Z" fill="#62a644" stroke="#111" stroke-width="0.7"/>
<path d="M124.44,502.10 L126.84,504.50 L124.44,506.90 L122.04,504.50 Z" fill="#62a644" stroke="#111" stroke-width="0.7"/>
<path d="M124.44,508.10 L126.84,510.50 L124.44,512.90 L122.04,510.50 Z" fill="#62a644" stroke="#111" stroke-width="0.7"/>
<circle cx="139.14" cy="505.75" r="1.8" fill="#62a644" stroke="#111" stroke-width="0.7"/>
<circle cx="139.14" cy="516.75" r="1.8" fill="#62a644" stroke="#111" stroke-width="0.7"/>
<circle cx="139.14" cy="516.75" r="1.8" fill="#62a644" stroke="#111" stroke-width="0.7"/>
<path d="M124.04,464.80 L124.04,462.80 L139.44,462.80 L139.44,464.80" fill="none" stroke="#2a2a2a" stroke-width="1.15" stroke-linejoin="round" stroke-linecap="round"/>
<circle cx="131.74" cy="458.90" r="1.15" fill="#2a2a2a" stroke="none" stroke-width="0"/>
<line x1="146.51" y1="454.00" x2="146.51" y2="579.60" stroke="#222" stroke-width="0.9" stroke-dasharray="0.9 1.1"/>
<line x1="146.51" y1="579.60" x2="143.11" y2="583.20" stroke="#222" stroke-width="0.9" stroke-dasharray="0.9 1.1"/>
<line x1="153.61" y1="486.25" x2="168.31" y2="501.25" stroke="#111" stroke-width="0.85" />
<line x1="153.61" y1="490.00" x2="168.31" y2="513.75" stroke="#111" stroke-width="0.85" />
<line x1="153.61" y1="501.25" x2="168.31" y2="508.75" stroke="#111" stroke-width="0.85" />
<path d="M153.61,483.85 L156.01,486.25 L153.61,488.65 L151.21,486.25 Z" fill="#62a644" stroke="#111" stroke-width="0.7"/>
<path d="M153.61,487.60 L156.01,490.00 L153.61,492.40 L151.21,490.00 Z" fill="#62a644" stroke="#111" stroke-width="0.7"/>
<path d="M153.61,498.85 L156.01,501.25 L153.61,503.65 L151.21,501.25 Z" fill="#62a644" stroke="#111" stroke-width="0.7"/>
<circle cx="168.31" cy="501.25" r="1.8" fill="#62a644" stroke="#111" stroke-width="0.7"/>
<circle cx="168.31" cy="513.75" r="1.8" fill="#62a644" stroke="#111" stroke-width="0.7"/>
<circle cx="168.31" cy="508.75" r="1.8" fill="#62a644" stroke="#111" stroke-width="0.7"/>
<path d="M153.21,464.80 L153.21,462.80 L168.61,462.80 L168.61,464.80" fill="none" stroke="#2a2a2a" stroke-width="1.15" stroke-linejoin="round" stroke-linecap="round"/>
<circle cx="160.91" cy="458.90" r="1.15" fill="#2a2a2a" stroke="none" stroke-width="0"/>
<line x1="175.68" y1="454.00" x2="175.68" y2="579.60" stroke="#222" stroke-width="0.9" stroke-dasharray="0.9 1.1"/>
<line x1="175.68" y1="579.60" x2="172.28" y2="583.20" stroke="#222" stroke-width="0.9" stroke-dasharray="0.9 1.1"/>
<line x1="182.78" y1="488.00" x2="197.48" y2="503.75" stroke="#111" stroke-width="0.85" />
<line x1="182.78" y1="488.00" x2="197.48" y2="505.75" stroke="#111" stroke-width="0.85" />
<line x1="182.78" y1="505.50" x2="197.48" y2="511.25" stroke="#111" stroke-width="0.85" />
<path d="M182.78,485.60 L185.18,488.00 L182.78,490.40 L180.38,488.00 Z" fill="#62a644" stroke="#111" stroke-width="0.7"/>
<path d="M182.78,485.60 L185.18,488.00 L182.78,490.40 L180.38,488.00 Z" fill="#62a644" stroke="#111" stroke-width="0.7"/>
<path d="M182.78,503.10 L185.18,505.50 L182.78,507.90 L180.38,505.50 Z" fill="#62a644" stroke="#111" stroke-width="0.7"/>
<circle cx="197.48" cy="503.75" r="1.8" fill="#62a644" stroke="#111" stroke-width="0.7"/>
<circle cx="197.48" cy="505.75" r="1.8" fill="#62a644" stroke="#111" stroke-width="0.7"/>
<circle cx="197.48" cy="511.25" r="1.8" fill="#62a644" stroke="#111" stroke-width="0.7"/>
<path d="M182.38,464.80 L182.38,462.80 L197.78,462.80 L197.78,464.80" fill="none" stroke="#2a2a2a" stroke-width="1.15" stroke-linejoin="round" stroke-linecap="round"/>
<circle cx="190.08" cy="458.90" r="1.15" fill="#2a2a2a" stroke="none" stroke-width="0"/>
<line x1="204.85" y1="454.00" x2="204.85" y2="579.60" stroke="#222" stroke-width="0.9" stroke-dasharray="0.9 1.1"/>
<line x1="204.85" y1="579.60" x2="201.45" y2="583.20" stroke="#222" stroke-width="0.9" stroke-dasharray="0.9 1.1"/>
<line x1="211.95" y1="488.75" x2="226.65" y2="498.25" stroke="#111" stroke-width="0.85" />
<line x1="211.95" y1="489.50" x2="226.65" y2="500.50" stroke="#111" stroke-width="0.85" />
<line x1="211.95" y1="490.00" x2="226.65" y2="503.00" stroke="#111" stroke-width="0.85" />
<path d="M211.95,486.35 L214.35,488.75 L211.95,491.15 L209.55,488.75 Z" fill="#62a644" stroke="#111" stroke-width="0.7"/>
<path d="M211.95,487.10 L214.35,489.50 L211.95,491.90 L209.55,489.50 Z" fill="#62a644" stroke="#111" stroke-width="0.7"/>
<path d="M211.95,487.60 L214.35,490.00 L211.95,492.40 L209.55,490.00 Z" fill="#62a644" stroke="#111" stroke-width="0.7"/>
<circle cx="226.65" cy="498.25" r="1.8" fill="#62a644" stroke="#111" stroke-width="0.7"/>
<circle cx="226.65" cy="500.50" r="1.8" fill="#62a644" stroke="#111" stroke-width="0.7"/>
<circle cx="226.65" cy="503.00" r="1.8" fill="#62a644" stroke="#111" stroke-width="0.7"/>
<path d="M211.55,464.80 L211.55,462.80 L226.95,462.80 L226.95,464.80" fill="none" stroke="#2a2a2a" stroke-width="1.15" stroke-linejoin="round" stroke-linecap="round"/>
<circle cx="219.25" cy="458.90" r="1.15" fill="#2a2a2a" stroke="none" stroke-width="0"/>
<line x1="234.02" y1="454.00" x2="234.02" y2="579.60" stroke="#222" stroke-width="0.9" stroke-dasharray="0.9 1.1"/>
<line x1="234.02" y1="579.60" x2="230.62" y2="583.20" stroke="#222" stroke-width="0.9" stroke-dasharray="0.9 1.1"/>
<line x1="241.12" y1="473.25" x2="255.82" y2="492.00" stroke="#111" stroke-width="0.85" />
<line x1="241.12" y1="478.25" x2="255.82" y2="498.00" stroke="#111" stroke-width="0.85" />
<line x1="241.12" y1="490.00" x2="255.82" y2="507.50" stroke="#111" stroke-width="0.85" />
<path d="M241.12,470.85 L243.52,473.25 L241.12,475.65 L238.72,473.25 Z" fill="#62a644" stroke="#111" stroke-width="0.7"/>
<path d="M241.12,475.85 L243.52,478.25 L241.12,480.65 L238.72,478.25 Z" fill="#62a644" stroke="#111" stroke-width="0.7"/>
<path d="M241.12,487.60 L243.52,490.00 L241.12,492.40 L238.72,490.00 Z" fill="#62a644" stroke="#111" stroke-width="0.7"/>
<circle cx="255.82" cy="492.00" r="1.8" fill="#62a644" stroke="#111" stroke-width="0.7"/>
<circle cx="255.82" cy="498.00" r="1.8" fill="#62a644" stroke="#111" stroke-width="0.7"/>
<circle cx="255.82" cy="507.50" r="1.8" fill="#62a644" stroke="#111" stroke-width="0.7"/>
<path d="M240.72,464.80 L240.72,462.80 L256.12,462.80 L256.12,464.80" fill="none" stroke="#2a2a2a" stroke-width="1.15" stroke-linejoin="round" stroke-linecap="round"/>
<circle cx="246.87" cy="459.00" r="1.1" fill="#2a2a2a" stroke="none" stroke-width="0"/>
<circle cx="249.97" cy="459.00" r="1.1" fill="#2a2a2a" stroke="none" stroke-width="0"/>
<line x1="263.19" y1="454.00" x2="263.19" y2="579.60" stroke="#222" stroke-width="0.9" stroke-dasharray="0.9 1.1"/>
<line x1="263.19" y1="579.60" x2="259.79" y2="583.20" stroke="#222" stroke-width="0.9" stroke-dasharray="0.9 1.1"/>
<line x1="270.29" y1="494.50" x2="284.99" y2="510.00" stroke="#111" stroke-width="0.85" />
<line x1="270.29" y1="498.75" x2="284.99" y2="513.75" stroke="#111" stroke-width="0.85" />
<line x1="270.29" y1="507.50" x2="284.99" y2="521.25" stroke="#111" stroke-width="0.85" />
<path d="M270.29,492.10 L272.69,494.50 L270.29,496.90 L267.89,494.50 Z" fill="#62a644" stroke="#111" stroke-width="0.7"/>
<path d="M270.29,496.35 L272.69,498.75 L270.29,501.15 L267.89,498.75 Z" fill="#62a644" stroke="#111" stroke-width="0.7"/>
<path d="M270.29,505.10 L272.69,507.50 L270.29,509.90 L267.89,507.50 Z" fill="#62a644" stroke="#111" stroke-width="0.7"/>
<circle cx="284.99" cy="510.00" r="1.8" fill="#62a644" stroke="#111" stroke-width="0.7"/>
<circle cx="284.99" cy="513.75" r="1.8" fill="#62a644" stroke="#111" stroke-width="0.7"/>
<circle cx="284.99" cy="521.25" r="1.8" fill="#62a644" stroke="#111" stroke-width="0.7"/>
<path d="M269.89,464.80 L269.89,462.80 L285.29,462.80 L285.29,464.80" fill="none" stroke="#2a2a2a" stroke-width="1.15" stroke-linejoin="round" stroke-linecap="round"/>
<circle cx="277.59" cy="458.90" r="1.15" fill="#2a2a2a" stroke="none" stroke-width="0"/>
<line x1="292.36" y1="454.00" x2="292.36" y2="579.60" stroke="#222" stroke-width="0.9" stroke-dasharray="0.9 1.1"/>
<line x1="292.36" y1="579.60" x2="288.96" y2="583.20" stroke="#222" stroke-width="0.9" stroke-dasharray="0.9 1.1"/>
<line x1="299.46" y1="488.75" x2="314.16" y2="504.25" stroke="#111" stroke-width="0.85" />
<line x1="299.46" y1="490.00" x2="314.16" y2="507.00" stroke="#111" stroke-width="0.85" />
<line x1="299.46" y1="498.25" x2="314.16" y2="509.50" stroke="#111" stroke-width="0.85" />
<path d="M299.46,486.35 L301.86,488.75 L299.46,491.15 L297.06,488.75 Z" fill="#62a644" stroke="#111" stroke-width="0.7"/>
<path d="M299.46,487.60 L301.86,490.00 L299.46,492.40 L297.06,490.00 Z" fill="#62a644" stroke="#111" stroke-width="0.7"/>
<path d="M299.46,495.85 L301.86,498.25 L299.46,500.65 L297.06,498.25 Z" fill="#62a644" stroke="#111" stroke-width="0.7"/>
<circle cx="314.16" cy="504.25" r="1.8" fill="#62a644" stroke="#111" stroke-width="0.7"/>
<circle cx="314.16" cy="507.00" r="1.8" fill="#62a644" stroke="#111" stroke-width="0.7"/>
<circle cx="314.16" cy="509.50" r="1.8" fill="#62a644" stroke="#111" stroke-width="0.7"/>
<path d="M299.06,464.80 L299.06,462.80 L314.46,462.80 L314.46,464.80" fill="none" stroke="#2a2a2a" stroke-width="1.15" stroke-linejoin="round" stroke-linecap="round"/>
<circle cx="306.76" cy="458.90" r="1.15" fill="#2a2a2a" stroke="none" stroke-width="0"/>
<line x1="321.53" y1="454.00" x2="321.53" y2="579.60" stroke="#222" stroke-width="0.9" stroke-dasharray="0.9 1.1"/>
<line x1="321.53" y1="579.60" x2="318.13" y2="583.20" stroke="#222" stroke-width="0.9" stroke-dasharray="0.9 1.1"/>
<line x1="328.63" y1="499.50" x2="343.33" y2="514.50" stroke="#111" stroke-width="0.85" />
<line x1="328.63" y1="508.75" x2="343.33" y2="516.75" stroke="#111" stroke-width="0.85" />
<line x1="328.63" y1="513.75" x2="343.33" y2="518.75" stroke="#111" stroke-width="0.85" />
<path d="M328.63,497.10 L331.03,499.50 L328.63,501.90 L326.23,499.50 Z" fill="#62a644" stroke="#111" stroke-width="0.7"/>
<path d="M328.63,506.35 L331.03,508.75 L328.63,511.15 L326.23,508.75 Z" fill="#62a644" stroke="#111" stroke-width="0.7"/>
<path d="M328.63,511.35 L331.03,513.75 L328.63,516.15 L326.23,513.75 Z" fill="#62a644" stroke="#111" stroke-width="0.7"/>
<circle cx="343.33" cy="514.50" r="1.8" fill="#62a644" stroke="#111" stroke-width="0.7"/>
<circle cx="343.33" cy="516.75" r="1.8" fill="#62a644" stroke="#111" stroke-width="0.7"/>
<circle cx="343.33" cy="518.75" r="1.8" fill="#62a644" stroke="#111" stroke-width="0.7"/>
<path d="M328.23,464.80 L328.23,462.80 L343.63,462.80 L343.63,464.80" fill="none" stroke="#2a2a2a" stroke-width="1.15" stroke-linejoin="round" stroke-linecap="round"/>
<circle cx="335.93" cy="458.90" r="1.15" fill="#2a2a2a" stroke="none" stroke-width="0"/>
<line x1="350.70" y1="454.00" x2="350.70" y2="579.60" stroke="#222" stroke-width="0.9" stroke-dasharray="0.9 1.1"/>
<line x1="350.70" y1="579.60" x2="347.30" y2="583.20" stroke="#222" stroke-width="0.9" stroke-dasharray="0.9 1.1"/>
<line x1="357.80" y1="498.00" x2="372.50" y2="505.50" stroke="#111" stroke-width="0.85" />
<line x1="357.80" y1="498.00" x2="372.50" y2="516.25" stroke="#111" stroke-width="0.85" />
<line x1="357.80" y1="505.00" x2="372.50" y2="519.50" stroke="#111" stroke-width="0.85" />
<path d="M357.80,495.60 L360.20,498.00 L357.80,500.40 L355.40,498.00 Z" fill="#62a644" stroke="#111" stroke-width="0.7"/>
<path d="M357.80,495.60 L360.20,498.00 L357.80,500.40 L355.40,498.00 Z" fill="#62a644" stroke="#111" stroke-width="0.7"/>
<path d="M357.80,502.60 L360.20,505.00 L357.80,507.40 L355.40,505.00 Z" fill="#62a644" stroke="#111" stroke-width="0.7"/>
<circle cx="372.50" cy="505.50" r="1.8" fill="#62a644" stroke="#111" stroke-width="0.7"/>
<circle cx="372.50" cy="516.25" r="1.8" fill="#62a644" stroke="#111" stroke-width="0.7"/>
<circle cx="372.50" cy="519.50" r="1.8" fill="#62a644" stroke="#111" stroke-width="0.7"/>
<path d="M357.40,464.80 L357.40,462.80 L372.80,462.80 L372.80,464.80" fill="none" stroke="#2a2a2a" stroke-width="1.15" stroke-linejoin="round" stroke-linecap="round"/>
<circle cx="365.10" cy="458.90" r="1.15" fill="#2a2a2a" stroke="none" stroke-width="0"/>
<line x1="379.87" y1="454.00" x2="379.87" y2="579.60" stroke="#222" stroke-width="0.9" stroke-dasharray="0.9 1.1"/>
<line x1="379.87" y1="579.60" x2="376.47" y2="583.20" stroke="#222" stroke-width="0.9" stroke-dasharray="0.9 1.1"/>
<line x1="386.97" y1="483.75" x2="401.67" y2="495.50" stroke="#111" stroke-width="0.85" />
<line x1="386.97" y1="483.75" x2="401.67" y2="498.00" stroke="#111" stroke-width="0.85" />
<line x1="386.97" y1="488.75" x2="401.67" y2="507.50" stroke="#111" stroke-width="0.85" />
<path d="M386.97,481.35 L389.37,483.75 L386.97,486.15 L384.57,483.75 Z" fill="#62a644" stroke="#111" stroke-width="0.7"/>
<path d="M386.97,481.35 L389.37,483.75 L386.97,486.15 L384.57,483.75 Z" fill="#62a644" stroke="#111" stroke-width="0.7"/>
<path d="M386.97,486.35 L389.37,488.75 L386.97,491.15 L384.57,488.75 Z" fill="#62a644" stroke="#111" stroke-width="0.7"/>
<circle cx="401.67" cy="495.50" r="1.8" fill="#62a644" stroke="#111" stroke-width="0.7"/>
<circle cx="401.67" cy="498.00" r="1.8" fill="#62a644" stroke="#111" stroke-width="0.7"/>
<circle cx="401.67" cy="507.50" r="1.8" fill="#62a644" stroke="#111" stroke-width="0.7"/>
<path d="M386.57,464.80 L386.57,462.80 L401.97,462.80 L401.97,464.80" fill="none" stroke="#2a2a2a" stroke-width="1.15" stroke-linejoin="round" stroke-linecap="round"/>
<circle cx="394.27" cy="458.90" r="1.15" fill="#2a2a2a" stroke="none" stroke-width="0"/>
<text x="400.30" y="559.90" font-size="7.0" text-anchor="middle" fill="#231f20" textLength="7.4" lengthAdjust="spacingAndGlyphs">S6</text>
<text x="399.90" y="568.00" font-size="7.0" text-anchor="middle" fill="#231f20" textLength="28.8" lengthAdjust="spacingAndGlyphs">Ribosomal</text>
<text x="400.00" y="575.50" font-size="7.0" text-anchor="middle" fill="#231f20" textLength="20.4" lengthAdjust="spacingAndGlyphs">Protein</text>
<text transform="translate(71.47,421.57) rotate(-45)" font-size="7.4" text-anchor="middle" fill="#231f20" stroke="#231f20" stroke-width="0.18" textLength="18.7" lengthAdjust="spacingAndGlyphs">AKT1S1</text>
<text transform="translate(95.17,418.27) rotate(-45)" font-size="7.4" text-anchor="middle" fill="#231f20" stroke="#231f20" stroke-width="0.18" textLength="10.7" lengthAdjust="spacingAndGlyphs">BAD</text>
<text transform="translate(113.47,421.47) rotate(-45)" font-size="7.4" text-anchor="middle" fill="#231f20" stroke="#231f20" stroke-width="0.18" textLength="16.3" lengthAdjust="spacingAndGlyphs">Cicline</text>
<text transform="translate(119.37,426.97) rotate(-45)" font-size="7.4" text-anchor="middle" fill="#231f20" stroke="#231f20" stroke-width="0.18" textLength="5.3" lengthAdjust="spacingAndGlyphs">D1</text>
<text transform="translate(139.27,419.37) rotate(-45)" font-size="7.4" text-anchor="middle" fill="#231f20" stroke="#231f20" stroke-width="0.18" textLength="13.2" lengthAdjust="spacingAndGlyphs">eNOS</text>
<text transform="translate(160.77,417.87) rotate(-45)" font-size="7.4" text-anchor="middle" fill="#231f20" stroke="#231f20" stroke-width="0.18" textLength="8.6" lengthAdjust="spacingAndGlyphs">FAK</text>
<text transform="translate(181.37,421.97) rotate(-45)" font-size="7.4" text-anchor="middle" fill="#231f20" stroke="#231f20" stroke-width="0.18" textLength="15.6" lengthAdjust="spacingAndGlyphs">FOXO1</text>
<text transform="translate(203.97,421.77) rotate(-45)" font-size="7.4" text-anchor="middle" fill="#231f20" stroke="#231f20" stroke-width="0.18" textLength="20.6" lengthAdjust="spacingAndGlyphs">FOXO1A</text>
<text transform="translate(225.17,419.57) rotate(-45)" font-size="7.4" text-anchor="middle" fill="#231f20" stroke="#231f20" stroke-width="0.18" textLength="11.9" lengthAdjust="spacingAndGlyphs">Gab2</text>
<text transform="translate(248.37,419.87) rotate(-45)" font-size="7.4" text-anchor="middle" fill="#231f20" stroke="#231f20" stroke-width="0.18" textLength="12.8" lengthAdjust="spacingAndGlyphs">mTOR</text>
<text transform="translate(268.57,421.27) rotate(-45)" font-size="7.4" text-anchor="middle" fill="#231f20" stroke="#231f20" stroke-width="0.18" textLength="18.1" lengthAdjust="spacingAndGlyphs">Paxillin</text>
<text transform="translate(287.77,420.97) rotate(-45)" font-size="7.4" text-anchor="middle" fill="#231f20" stroke="#231f20" stroke-width="0.18" textLength="12.3" lengthAdjust="spacingAndGlyphs">PI3K-</text>
<text transform="translate(293.17,426.67) rotate(-45)" font-size="7.4" text-anchor="middle" fill="#231f20" stroke="#231f20" stroke-width="0.18" textLength="8.1" lengthAdjust="spacingAndGlyphs">p85</text>
<text transform="translate(312.37,420.57) rotate(-45)" font-size="7.4" text-anchor="middle" fill="#231f20" stroke="#231f20" stroke-width="0.18" textLength="19.0" lengthAdjust="spacingAndGlyphs">PP2A-a</text>
<text transform="translate(327.57,423.97) rotate(-45)" font-size="7.6" text-anchor="middle" fill="#231f20" stroke="#231f20" stroke-width="0.18" textLength="8.2" lengthAdjust="spacingAndGlyphs">p53</text>
<text transform="translate(331.81,428.21) rotate(-45)" font-size="5.4" text-anchor="middle" fill="#231f20" stroke="#231f20" stroke-width="0.0" textLength="18.0" lengthAdjust="spacingAndGlyphs">(Ser 392)</text>
<text transform="translate(350.37,422.67) rotate(-45)" font-size="7.6" text-anchor="middle" fill="#231f20" stroke="#231f20" stroke-width="0.18" textLength="8.2" lengthAdjust="spacingAndGlyphs">p53</text>
<text transform="translate(354.71,426.91) rotate(-45)" font-size="5.4" text-anchor="middle" fill="#231f20" stroke="#231f20" stroke-width="0.0" textLength="15.2" lengthAdjust="spacingAndGlyphs">(Ser 33)</text>
<text transform="translate(371.27,422.27) rotate(-45)" font-size="7.6" text-anchor="middle" fill="#231f20" stroke="#231f20" stroke-width="0.18" textLength="8.2" lengthAdjust="spacingAndGlyphs">p53</text>
<text transform="translate(375.91,426.91) rotate(-45)" font-size="5.4" text-anchor="middle" fill="#231f20" stroke="#231f20" stroke-width="0.0" textLength="14.7" lengthAdjust="spacingAndGlyphs">(Ser 37)</text>
<text transform="translate(392.87,422.67) rotate(-45)" font-size="7.6" text-anchor="middle" fill="#231f20" stroke="#231f20" stroke-width="0.18" textLength="8.2" lengthAdjust="spacingAndGlyphs">p53</text>
<text transform="translate(396.81,426.91) rotate(-45)" font-size="5.4" text-anchor="middle" fill="#231f20" stroke="#231f20" stroke-width="0.0" textLength="15.2" lengthAdjust="spacingAndGlyphs">(Ser 46)</text>
<text transform="translate(415.07,422.27) rotate(-45)" font-size="7.6" text-anchor="middle" fill="#231f20" stroke="#231f20" stroke-width="0.18" textLength="8.2" lengthAdjust="spacingAndGlyphs">p53</text>
<text transform="translate(419.71,426.91) rotate(-45)" font-size="5.4" text-anchor="middle" fill="#231f20" stroke="#231f20" stroke-width="0.0" textLength="15.2" lengthAdjust="spacingAndGlyphs">(Thr 18)</text>
<text transform="translate(440.07,422.27) rotate(-45)" font-size="7.4" text-anchor="middle" fill="#231f20" stroke="#231f20" stroke-width="0.18" textLength="19.0" lengthAdjust="spacingAndGlyphs">p70S6K-</text>
<text transform="translate(445.07,429.37) rotate(-45)" font-size="7.4" text-anchor="middle" fill="#231f20" stroke="#231f20" stroke-width="0.18" textLength="7.6" lengthAdjust="spacingAndGlyphs">beta</text>
<text transform="translate(463.97,422.27) rotate(-45)" font-size="7.4" text-anchor="middle" fill="#231f20" stroke="#231f20" stroke-width="0.18" textLength="18.6" lengthAdjust="spacingAndGlyphs">p70S6K</text>
<text transform="translate(70.87,564.97) rotate(-45)" font-size="7.4" text-anchor="middle" fill="#231f20" stroke="#231f20" stroke-width="0.18" textLength="15.7" lengthAdjust="spacingAndGlyphs">14-3-3</text>
<text transform="translate(76.77,570.37) rotate(-45)" font-size="7.4" text-anchor="middle" fill="#231f20" stroke="#231f20" stroke-width="0.18" textLength="23.1" lengthAdjust="spacingAndGlyphs">theta/tau</text>
<text transform="translate(100.17,563.57) rotate(-45)" font-size="7.4" text-anchor="middle" fill="#231f20" stroke="#231f20" stroke-width="0.18" textLength="8.6" lengthAdjust="spacingAndGlyphs">AKT</text>
<text transform="translate(104.61,567.21) rotate(-45)" font-size="5.4" text-anchor="middle" fill="#231f20" stroke="#231f20" stroke-width="0.0" textLength="19.7" lengthAdjust="spacingAndGlyphs">(Ser 473)</text>
<text transform="translate(130.07,562.97) rotate(-45)" font-size="7.4" text-anchor="middle" fill="#231f20" stroke="#231f20" stroke-width="0.18" textLength="11.0" lengthAdjust="spacingAndGlyphs">AKT1</text>
<text transform="translate(135.11,566.51) rotate(-45)" font-size="5.4" text-anchor="middle" fill="#231f20" stroke="#231f20" stroke-width="0.0" textLength="17.6" lengthAdjust="spacingAndGlyphs">(Thr 72)</text>
<text transform="translate(162.27,565.27) rotate(-45)" font-size="7.4" text-anchor="middle" fill="#231f20" stroke="#231f20" stroke-width="0.18" textLength="23.3" lengthAdjust="spacingAndGlyphs">GSK3 a-b</text>
<text transform="translate(192.27,563.27) rotate(-45)" font-size="7.4" text-anchor="middle" fill="#231f20" stroke="#231f20" stroke-width="0.18" textLength="18.1" lengthAdjust="spacingAndGlyphs">GSK3 <tspan font-family="Liberation Serif" font-style="italic" font-weight="bold">α</tspan></text>
<text transform="translate(217.47,563.27) rotate(-45)" font-size="7.4" text-anchor="middle" fill="#231f20" stroke="#231f20" stroke-width="0.18" textLength="10.9" lengthAdjust="spacingAndGlyphs">IRS-1</text>
<text transform="translate(222.61,567.21) rotate(-45)" font-size="5.4" text-anchor="middle" fill="#231f20" stroke="#231f20" stroke-width="0.0" textLength="19.7" lengthAdjust="spacingAndGlyphs">(Ser 307)</text>
<text transform="translate(247.27,563.27) rotate(-45)" font-size="7.4" text-anchor="middle" fill="#231f20" stroke="#231f20" stroke-width="0.18" textLength="10.9" lengthAdjust="spacingAndGlyphs">IRS-1</text>
<text transform="translate(252.51,567.21) rotate(-45)" font-size="5.4" text-anchor="middle" fill="#231f20" stroke="#231f20" stroke-width="0.0" textLength="19.5" lengthAdjust="spacingAndGlyphs">(Ser 794)</text>
<text transform="translate(279.57,561.57) rotate(-45)" font-size="7.4" text-anchor="middle" fill="#231f20" stroke="#231f20" stroke-width="0.18" textLength="10.5" lengthAdjust="spacingAndGlyphs">JAK1</text>
<text transform="translate(308.97,562.27) rotate(-45)" font-size="7.4" text-anchor="middle" fill="#231f20" stroke="#231f20" stroke-width="0.18" textLength="13.3" lengthAdjust="spacingAndGlyphs">mTOR</text>
<text transform="translate(337.87,561.27) rotate(-45)" font-size="7.4" text-anchor="middle" fill="#231f20" stroke="#231f20" stroke-width="0.18" textLength="11.9" lengthAdjust="spacingAndGlyphs">PTEN</text>
<text transform="translate(367.37,559.87) rotate(-45)" font-size="7.4" text-anchor="middle" fill="#231f20" stroke="#231f20" stroke-width="0.18" textLength="9.1" lengthAdjust="spacingAndGlyphs">SYK</text>
<line x1="0.00" y1="0.50" x2="520.00" y2="0.50" stroke="#111" stroke-width="1.2" />
<line x1="0.00" y1="590.50" x2="520.00" y2="590.50" stroke="#111" stroke-width="1.2" />
<line x1="0.60" y1="0.00" x2="0.60" y2="591.00" stroke="#444" stroke-width="1.3" />
<line x1="519.40" y1="0.00" x2="519.40" y2="591.00" stroke="#444" stroke-width="1.3" />
</svg>
</body></html>
